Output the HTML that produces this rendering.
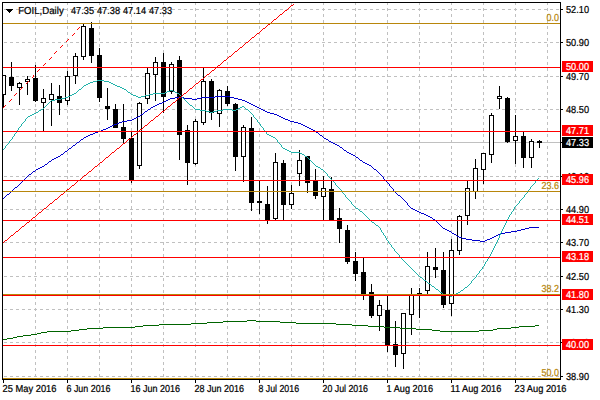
<!DOCTYPE html>
<html><head><meta charset="utf-8"><title>FOIL Daily</title>
<style>html,body{margin:0;padding:0;background:#fff;overflow:hidden}body{width:600px;height:400px;font-family:"Liberation Sans",sans-serif}svg{display:block;position:absolute;left:0;top:0}text{font-family:"Liberation Sans",sans-serif}</style>
</head><body>
<svg width="600" height="400" viewBox="0 0 600 400">
<rect x="0" y="0" width="600" height="400" fill="#fff"/>
<defs><clipPath id="cp"><rect x="3" y="3" width="557" height="376"/></clipPath></defs>
<g shape-rendering="crispEdges" fill="#c0c0c0">
<path d="M4 9h3v1h-3zM10 9h3v1h-3zM16 9h3v1h-3zM22 9h3v1h-3zM28 9h3v1h-3zM34 9h3v1h-3zM40 9h3v1h-3zM46 9h3v1h-3zM52 9h3v1h-3zM58 9h3v1h-3zM64 9h3v1h-3zM70 9h3v1h-3zM76 9h3v1h-3zM82 9h3v1h-3zM88 9h3v1h-3zM94 9h3v1h-3zM100 9h3v1h-3zM106 9h3v1h-3zM112 9h3v1h-3zM118 9h3v1h-3zM124 9h3v1h-3zM130 9h3v1h-3zM136 9h3v1h-3zM142 9h3v1h-3zM148 9h3v1h-3zM154 9h3v1h-3zM160 9h3v1h-3zM166 9h3v1h-3zM172 9h3v1h-3zM178 9h3v1h-3zM184 9h3v1h-3zM190 9h3v1h-3zM196 9h3v1h-3zM202 9h3v1h-3zM208 9h3v1h-3zM214 9h3v1h-3zM220 9h3v1h-3zM226 9h3v1h-3zM232 9h3v1h-3zM238 9h3v1h-3zM244 9h3v1h-3zM250 9h3v1h-3zM256 9h3v1h-3zM262 9h3v1h-3zM268 9h3v1h-3zM274 9h3v1h-3zM280 9h3v1h-3zM286 9h3v1h-3zM292 9h3v1h-3zM298 9h3v1h-3zM304 9h3v1h-3zM310 9h3v1h-3zM316 9h3v1h-3zM322 9h3v1h-3zM328 9h3v1h-3zM334 9h3v1h-3zM340 9h3v1h-3zM346 9h3v1h-3zM352 9h3v1h-3zM358 9h3v1h-3zM364 9h3v1h-3zM370 9h3v1h-3zM376 9h3v1h-3zM382 9h3v1h-3zM388 9h3v1h-3zM394 9h3v1h-3zM400 9h3v1h-3zM406 9h3v1h-3zM412 9h3v1h-3zM418 9h3v1h-3zM424 9h3v1h-3zM430 9h3v1h-3zM436 9h3v1h-3zM442 9h3v1h-3zM448 9h3v1h-3zM454 9h3v1h-3zM460 9h3v1h-3zM466 9h3v1h-3zM472 9h3v1h-3zM478 9h3v1h-3zM484 9h3v1h-3zM490 9h3v1h-3zM496 9h3v1h-3zM502 9h3v1h-3zM508 9h3v1h-3zM514 9h3v1h-3zM520 9h3v1h-3zM526 9h3v1h-3zM532 9h3v1h-3zM538 9h3v1h-3zM544 9h3v1h-3zM550 9h3v1h-3zM556 9h3v1h-3z"/>
<path d="M4 42h3v1h-3zM10 42h3v1h-3zM16 42h3v1h-3zM22 42h3v1h-3zM28 42h3v1h-3zM34 42h3v1h-3zM40 42h3v1h-3zM46 42h3v1h-3zM52 42h3v1h-3zM58 42h3v1h-3zM64 42h3v1h-3zM70 42h3v1h-3zM76 42h3v1h-3zM82 42h3v1h-3zM88 42h3v1h-3zM94 42h3v1h-3zM100 42h3v1h-3zM106 42h3v1h-3zM112 42h3v1h-3zM118 42h3v1h-3zM124 42h3v1h-3zM130 42h3v1h-3zM136 42h3v1h-3zM142 42h3v1h-3zM148 42h3v1h-3zM154 42h3v1h-3zM160 42h3v1h-3zM166 42h3v1h-3zM172 42h3v1h-3zM178 42h3v1h-3zM184 42h3v1h-3zM190 42h3v1h-3zM196 42h3v1h-3zM202 42h3v1h-3zM208 42h3v1h-3zM214 42h3v1h-3zM220 42h3v1h-3zM226 42h3v1h-3zM232 42h3v1h-3zM238 42h3v1h-3zM244 42h3v1h-3zM250 42h3v1h-3zM256 42h3v1h-3zM262 42h3v1h-3zM268 42h3v1h-3zM274 42h3v1h-3zM280 42h3v1h-3zM286 42h3v1h-3zM292 42h3v1h-3zM298 42h3v1h-3zM304 42h3v1h-3zM310 42h3v1h-3zM316 42h3v1h-3zM322 42h3v1h-3zM328 42h3v1h-3zM334 42h3v1h-3zM340 42h3v1h-3zM346 42h3v1h-3zM352 42h3v1h-3zM358 42h3v1h-3zM364 42h3v1h-3zM370 42h3v1h-3zM376 42h3v1h-3zM382 42h3v1h-3zM388 42h3v1h-3zM394 42h3v1h-3zM400 42h3v1h-3zM406 42h3v1h-3zM412 42h3v1h-3zM418 42h3v1h-3zM424 42h3v1h-3zM430 42h3v1h-3zM436 42h3v1h-3zM442 42h3v1h-3zM448 42h3v1h-3zM454 42h3v1h-3zM460 42h3v1h-3zM466 42h3v1h-3zM472 42h3v1h-3zM478 42h3v1h-3zM484 42h3v1h-3zM490 42h3v1h-3zM496 42h3v1h-3zM502 42h3v1h-3zM508 42h3v1h-3zM514 42h3v1h-3zM520 42h3v1h-3zM526 42h3v1h-3zM532 42h3v1h-3zM538 42h3v1h-3zM544 42h3v1h-3zM550 42h3v1h-3zM556 42h3v1h-3z"/>
<path d="M4 76h3v1h-3zM10 76h3v1h-3zM16 76h3v1h-3zM22 76h3v1h-3zM28 76h3v1h-3zM34 76h3v1h-3zM40 76h3v1h-3zM46 76h3v1h-3zM52 76h3v1h-3zM58 76h3v1h-3zM64 76h3v1h-3zM70 76h3v1h-3zM76 76h3v1h-3zM82 76h3v1h-3zM88 76h3v1h-3zM94 76h3v1h-3zM100 76h3v1h-3zM106 76h3v1h-3zM112 76h3v1h-3zM118 76h3v1h-3zM124 76h3v1h-3zM130 76h3v1h-3zM136 76h3v1h-3zM142 76h3v1h-3zM148 76h3v1h-3zM154 76h3v1h-3zM160 76h3v1h-3zM166 76h3v1h-3zM172 76h3v1h-3zM178 76h3v1h-3zM184 76h3v1h-3zM190 76h3v1h-3zM196 76h3v1h-3zM202 76h3v1h-3zM208 76h3v1h-3zM214 76h3v1h-3zM220 76h3v1h-3zM226 76h3v1h-3zM232 76h3v1h-3zM238 76h3v1h-3zM244 76h3v1h-3zM250 76h3v1h-3zM256 76h3v1h-3zM262 76h3v1h-3zM268 76h3v1h-3zM274 76h3v1h-3zM280 76h3v1h-3zM286 76h3v1h-3zM292 76h3v1h-3zM298 76h3v1h-3zM304 76h3v1h-3zM310 76h3v1h-3zM316 76h3v1h-3zM322 76h3v1h-3zM328 76h3v1h-3zM334 76h3v1h-3zM340 76h3v1h-3zM346 76h3v1h-3zM352 76h3v1h-3zM358 76h3v1h-3zM364 76h3v1h-3zM370 76h3v1h-3zM376 76h3v1h-3zM382 76h3v1h-3zM388 76h3v1h-3zM394 76h3v1h-3zM400 76h3v1h-3zM406 76h3v1h-3zM412 76h3v1h-3zM418 76h3v1h-3zM424 76h3v1h-3zM430 76h3v1h-3zM436 76h3v1h-3zM442 76h3v1h-3zM448 76h3v1h-3zM454 76h3v1h-3zM460 76h3v1h-3zM466 76h3v1h-3zM472 76h3v1h-3zM478 76h3v1h-3zM484 76h3v1h-3zM490 76h3v1h-3zM496 76h3v1h-3zM502 76h3v1h-3zM508 76h3v1h-3zM514 76h3v1h-3zM520 76h3v1h-3zM526 76h3v1h-3zM532 76h3v1h-3zM538 76h3v1h-3zM544 76h3v1h-3zM550 76h3v1h-3zM556 76h3v1h-3z"/>
<path d="M4 109h3v1h-3zM10 109h3v1h-3zM16 109h3v1h-3zM22 109h3v1h-3zM28 109h3v1h-3zM34 109h3v1h-3zM40 109h3v1h-3zM46 109h3v1h-3zM52 109h3v1h-3zM58 109h3v1h-3zM64 109h3v1h-3zM70 109h3v1h-3zM76 109h3v1h-3zM82 109h3v1h-3zM88 109h3v1h-3zM94 109h3v1h-3zM100 109h3v1h-3zM106 109h3v1h-3zM112 109h3v1h-3zM118 109h3v1h-3zM124 109h3v1h-3zM130 109h3v1h-3zM136 109h3v1h-3zM142 109h3v1h-3zM148 109h3v1h-3zM154 109h3v1h-3zM160 109h3v1h-3zM166 109h3v1h-3zM172 109h3v1h-3zM178 109h3v1h-3zM184 109h3v1h-3zM190 109h3v1h-3zM196 109h3v1h-3zM202 109h3v1h-3zM208 109h3v1h-3zM214 109h3v1h-3zM220 109h3v1h-3zM226 109h3v1h-3zM232 109h3v1h-3zM238 109h3v1h-3zM244 109h3v1h-3zM250 109h3v1h-3zM256 109h3v1h-3zM262 109h3v1h-3zM268 109h3v1h-3zM274 109h3v1h-3zM280 109h3v1h-3zM286 109h3v1h-3zM292 109h3v1h-3zM298 109h3v1h-3zM304 109h3v1h-3zM310 109h3v1h-3zM316 109h3v1h-3zM322 109h3v1h-3zM328 109h3v1h-3zM334 109h3v1h-3zM340 109h3v1h-3zM346 109h3v1h-3zM352 109h3v1h-3zM358 109h3v1h-3zM364 109h3v1h-3zM370 109h3v1h-3zM376 109h3v1h-3zM382 109h3v1h-3zM388 109h3v1h-3zM394 109h3v1h-3zM400 109h3v1h-3zM406 109h3v1h-3zM412 109h3v1h-3zM418 109h3v1h-3zM424 109h3v1h-3zM430 109h3v1h-3zM436 109h3v1h-3zM442 109h3v1h-3zM448 109h3v1h-3zM454 109h3v1h-3zM460 109h3v1h-3zM466 109h3v1h-3zM472 109h3v1h-3zM478 109h3v1h-3zM484 109h3v1h-3zM490 109h3v1h-3zM496 109h3v1h-3zM502 109h3v1h-3zM508 109h3v1h-3zM514 109h3v1h-3zM520 109h3v1h-3zM526 109h3v1h-3zM532 109h3v1h-3zM538 109h3v1h-3zM544 109h3v1h-3zM550 109h3v1h-3zM556 109h3v1h-3z"/>
<path d="M4 142h3v1h-3zM10 142h3v1h-3zM16 142h3v1h-3zM22 142h3v1h-3zM28 142h3v1h-3zM34 142h3v1h-3zM40 142h3v1h-3zM46 142h3v1h-3zM52 142h3v1h-3zM58 142h3v1h-3zM64 142h3v1h-3zM70 142h3v1h-3zM76 142h3v1h-3zM82 142h3v1h-3zM88 142h3v1h-3zM94 142h3v1h-3zM100 142h3v1h-3zM106 142h3v1h-3zM112 142h3v1h-3zM118 142h3v1h-3zM124 142h3v1h-3zM130 142h3v1h-3zM136 142h3v1h-3zM142 142h3v1h-3zM148 142h3v1h-3zM154 142h3v1h-3zM160 142h3v1h-3zM166 142h3v1h-3zM172 142h3v1h-3zM178 142h3v1h-3zM184 142h3v1h-3zM190 142h3v1h-3zM196 142h3v1h-3zM202 142h3v1h-3zM208 142h3v1h-3zM214 142h3v1h-3zM220 142h3v1h-3zM226 142h3v1h-3zM232 142h3v1h-3zM238 142h3v1h-3zM244 142h3v1h-3zM250 142h3v1h-3zM256 142h3v1h-3zM262 142h3v1h-3zM268 142h3v1h-3zM274 142h3v1h-3zM280 142h3v1h-3zM286 142h3v1h-3zM292 142h3v1h-3zM298 142h3v1h-3zM304 142h3v1h-3zM310 142h3v1h-3zM316 142h3v1h-3zM322 142h3v1h-3zM328 142h3v1h-3zM334 142h3v1h-3zM340 142h3v1h-3zM346 142h3v1h-3zM352 142h3v1h-3zM358 142h3v1h-3zM364 142h3v1h-3zM370 142h3v1h-3zM376 142h3v1h-3zM382 142h3v1h-3zM388 142h3v1h-3zM394 142h3v1h-3zM400 142h3v1h-3zM406 142h3v1h-3zM412 142h3v1h-3zM418 142h3v1h-3zM424 142h3v1h-3zM430 142h3v1h-3zM436 142h3v1h-3zM442 142h3v1h-3zM448 142h3v1h-3zM454 142h3v1h-3zM460 142h3v1h-3zM466 142h3v1h-3zM472 142h3v1h-3zM478 142h3v1h-3zM484 142h3v1h-3zM490 142h3v1h-3zM496 142h3v1h-3zM502 142h3v1h-3zM508 142h3v1h-3zM514 142h3v1h-3zM520 142h3v1h-3zM526 142h3v1h-3zM532 142h3v1h-3zM538 142h3v1h-3zM544 142h3v1h-3zM550 142h3v1h-3zM556 142h3v1h-3z"/>
<path d="M4 176h3v1h-3zM10 176h3v1h-3zM16 176h3v1h-3zM22 176h3v1h-3zM28 176h3v1h-3zM34 176h3v1h-3zM40 176h3v1h-3zM46 176h3v1h-3zM52 176h3v1h-3zM58 176h3v1h-3zM64 176h3v1h-3zM70 176h3v1h-3zM76 176h3v1h-3zM82 176h3v1h-3zM88 176h3v1h-3zM94 176h3v1h-3zM100 176h3v1h-3zM106 176h3v1h-3zM112 176h3v1h-3zM118 176h3v1h-3zM124 176h3v1h-3zM130 176h3v1h-3zM136 176h3v1h-3zM142 176h3v1h-3zM148 176h3v1h-3zM154 176h3v1h-3zM160 176h3v1h-3zM166 176h3v1h-3zM172 176h3v1h-3zM178 176h3v1h-3zM184 176h3v1h-3zM190 176h3v1h-3zM196 176h3v1h-3zM202 176h3v1h-3zM208 176h3v1h-3zM214 176h3v1h-3zM220 176h3v1h-3zM226 176h3v1h-3zM232 176h3v1h-3zM238 176h3v1h-3zM244 176h3v1h-3zM250 176h3v1h-3zM256 176h3v1h-3zM262 176h3v1h-3zM268 176h3v1h-3zM274 176h3v1h-3zM280 176h3v1h-3zM286 176h3v1h-3zM292 176h3v1h-3zM298 176h3v1h-3zM304 176h3v1h-3zM310 176h3v1h-3zM316 176h3v1h-3zM322 176h3v1h-3zM328 176h3v1h-3zM334 176h3v1h-3zM340 176h3v1h-3zM346 176h3v1h-3zM352 176h3v1h-3zM358 176h3v1h-3zM364 176h3v1h-3zM370 176h3v1h-3zM376 176h3v1h-3zM382 176h3v1h-3zM388 176h3v1h-3zM394 176h3v1h-3zM400 176h3v1h-3zM406 176h3v1h-3zM412 176h3v1h-3zM418 176h3v1h-3zM424 176h3v1h-3zM430 176h3v1h-3zM436 176h3v1h-3zM442 176h3v1h-3zM448 176h3v1h-3zM454 176h3v1h-3zM460 176h3v1h-3zM466 176h3v1h-3zM472 176h3v1h-3zM478 176h3v1h-3zM484 176h3v1h-3zM490 176h3v1h-3zM496 176h3v1h-3zM502 176h3v1h-3zM508 176h3v1h-3zM514 176h3v1h-3zM520 176h3v1h-3zM526 176h3v1h-3zM532 176h3v1h-3zM538 176h3v1h-3zM544 176h3v1h-3zM550 176h3v1h-3zM556 176h3v1h-3z"/>
<path d="M4 209h3v1h-3zM10 209h3v1h-3zM16 209h3v1h-3zM22 209h3v1h-3zM28 209h3v1h-3zM34 209h3v1h-3zM40 209h3v1h-3zM46 209h3v1h-3zM52 209h3v1h-3zM58 209h3v1h-3zM64 209h3v1h-3zM70 209h3v1h-3zM76 209h3v1h-3zM82 209h3v1h-3zM88 209h3v1h-3zM94 209h3v1h-3zM100 209h3v1h-3zM106 209h3v1h-3zM112 209h3v1h-3zM118 209h3v1h-3zM124 209h3v1h-3zM130 209h3v1h-3zM136 209h3v1h-3zM142 209h3v1h-3zM148 209h3v1h-3zM154 209h3v1h-3zM160 209h3v1h-3zM166 209h3v1h-3zM172 209h3v1h-3zM178 209h3v1h-3zM184 209h3v1h-3zM190 209h3v1h-3zM196 209h3v1h-3zM202 209h3v1h-3zM208 209h3v1h-3zM214 209h3v1h-3zM220 209h3v1h-3zM226 209h3v1h-3zM232 209h3v1h-3zM238 209h3v1h-3zM244 209h3v1h-3zM250 209h3v1h-3zM256 209h3v1h-3zM262 209h3v1h-3zM268 209h3v1h-3zM274 209h3v1h-3zM280 209h3v1h-3zM286 209h3v1h-3zM292 209h3v1h-3zM298 209h3v1h-3zM304 209h3v1h-3zM310 209h3v1h-3zM316 209h3v1h-3zM322 209h3v1h-3zM328 209h3v1h-3zM334 209h3v1h-3zM340 209h3v1h-3zM346 209h3v1h-3zM352 209h3v1h-3zM358 209h3v1h-3zM364 209h3v1h-3zM370 209h3v1h-3zM376 209h3v1h-3zM382 209h3v1h-3zM388 209h3v1h-3zM394 209h3v1h-3zM400 209h3v1h-3zM406 209h3v1h-3zM412 209h3v1h-3zM418 209h3v1h-3zM424 209h3v1h-3zM430 209h3v1h-3zM436 209h3v1h-3zM442 209h3v1h-3zM448 209h3v1h-3zM454 209h3v1h-3zM460 209h3v1h-3zM466 209h3v1h-3zM472 209h3v1h-3zM478 209h3v1h-3zM484 209h3v1h-3zM490 209h3v1h-3zM496 209h3v1h-3zM502 209h3v1h-3zM508 209h3v1h-3zM514 209h3v1h-3zM520 209h3v1h-3zM526 209h3v1h-3zM532 209h3v1h-3zM538 209h3v1h-3zM544 209h3v1h-3zM550 209h3v1h-3zM556 209h3v1h-3z"/>
<path d="M4 242h3v1h-3zM10 242h3v1h-3zM16 242h3v1h-3zM22 242h3v1h-3zM28 242h3v1h-3zM34 242h3v1h-3zM40 242h3v1h-3zM46 242h3v1h-3zM52 242h3v1h-3zM58 242h3v1h-3zM64 242h3v1h-3zM70 242h3v1h-3zM76 242h3v1h-3zM82 242h3v1h-3zM88 242h3v1h-3zM94 242h3v1h-3zM100 242h3v1h-3zM106 242h3v1h-3zM112 242h3v1h-3zM118 242h3v1h-3zM124 242h3v1h-3zM130 242h3v1h-3zM136 242h3v1h-3zM142 242h3v1h-3zM148 242h3v1h-3zM154 242h3v1h-3zM160 242h3v1h-3zM166 242h3v1h-3zM172 242h3v1h-3zM178 242h3v1h-3zM184 242h3v1h-3zM190 242h3v1h-3zM196 242h3v1h-3zM202 242h3v1h-3zM208 242h3v1h-3zM214 242h3v1h-3zM220 242h3v1h-3zM226 242h3v1h-3zM232 242h3v1h-3zM238 242h3v1h-3zM244 242h3v1h-3zM250 242h3v1h-3zM256 242h3v1h-3zM262 242h3v1h-3zM268 242h3v1h-3zM274 242h3v1h-3zM280 242h3v1h-3zM286 242h3v1h-3zM292 242h3v1h-3zM298 242h3v1h-3zM304 242h3v1h-3zM310 242h3v1h-3zM316 242h3v1h-3zM322 242h3v1h-3zM328 242h3v1h-3zM334 242h3v1h-3zM340 242h3v1h-3zM346 242h3v1h-3zM352 242h3v1h-3zM358 242h3v1h-3zM364 242h3v1h-3zM370 242h3v1h-3zM376 242h3v1h-3zM382 242h3v1h-3zM388 242h3v1h-3zM394 242h3v1h-3zM400 242h3v1h-3zM406 242h3v1h-3zM412 242h3v1h-3zM418 242h3v1h-3zM424 242h3v1h-3zM430 242h3v1h-3zM436 242h3v1h-3zM442 242h3v1h-3zM448 242h3v1h-3zM454 242h3v1h-3zM460 242h3v1h-3zM466 242h3v1h-3zM472 242h3v1h-3zM478 242h3v1h-3zM484 242h3v1h-3zM490 242h3v1h-3zM496 242h3v1h-3zM502 242h3v1h-3zM508 242h3v1h-3zM514 242h3v1h-3zM520 242h3v1h-3zM526 242h3v1h-3zM532 242h3v1h-3zM538 242h3v1h-3zM544 242h3v1h-3zM550 242h3v1h-3zM556 242h3v1h-3z"/>
<path d="M4 276h3v1h-3zM10 276h3v1h-3zM16 276h3v1h-3zM22 276h3v1h-3zM28 276h3v1h-3zM34 276h3v1h-3zM40 276h3v1h-3zM46 276h3v1h-3zM52 276h3v1h-3zM58 276h3v1h-3zM64 276h3v1h-3zM70 276h3v1h-3zM76 276h3v1h-3zM82 276h3v1h-3zM88 276h3v1h-3zM94 276h3v1h-3zM100 276h3v1h-3zM106 276h3v1h-3zM112 276h3v1h-3zM118 276h3v1h-3zM124 276h3v1h-3zM130 276h3v1h-3zM136 276h3v1h-3zM142 276h3v1h-3zM148 276h3v1h-3zM154 276h3v1h-3zM160 276h3v1h-3zM166 276h3v1h-3zM172 276h3v1h-3zM178 276h3v1h-3zM184 276h3v1h-3zM190 276h3v1h-3zM196 276h3v1h-3zM202 276h3v1h-3zM208 276h3v1h-3zM214 276h3v1h-3zM220 276h3v1h-3zM226 276h3v1h-3zM232 276h3v1h-3zM238 276h3v1h-3zM244 276h3v1h-3zM250 276h3v1h-3zM256 276h3v1h-3zM262 276h3v1h-3zM268 276h3v1h-3zM274 276h3v1h-3zM280 276h3v1h-3zM286 276h3v1h-3zM292 276h3v1h-3zM298 276h3v1h-3zM304 276h3v1h-3zM310 276h3v1h-3zM316 276h3v1h-3zM322 276h3v1h-3zM328 276h3v1h-3zM334 276h3v1h-3zM340 276h3v1h-3zM346 276h3v1h-3zM352 276h3v1h-3zM358 276h3v1h-3zM364 276h3v1h-3zM370 276h3v1h-3zM376 276h3v1h-3zM382 276h3v1h-3zM388 276h3v1h-3zM394 276h3v1h-3zM400 276h3v1h-3zM406 276h3v1h-3zM412 276h3v1h-3zM418 276h3v1h-3zM424 276h3v1h-3zM430 276h3v1h-3zM436 276h3v1h-3zM442 276h3v1h-3zM448 276h3v1h-3zM454 276h3v1h-3zM460 276h3v1h-3zM466 276h3v1h-3zM472 276h3v1h-3zM478 276h3v1h-3zM484 276h3v1h-3zM490 276h3v1h-3zM496 276h3v1h-3zM502 276h3v1h-3zM508 276h3v1h-3zM514 276h3v1h-3zM520 276h3v1h-3zM526 276h3v1h-3zM532 276h3v1h-3zM538 276h3v1h-3zM544 276h3v1h-3zM550 276h3v1h-3zM556 276h3v1h-3z"/>
<path d="M4 309h3v1h-3zM10 309h3v1h-3zM16 309h3v1h-3zM22 309h3v1h-3zM28 309h3v1h-3zM34 309h3v1h-3zM40 309h3v1h-3zM46 309h3v1h-3zM52 309h3v1h-3zM58 309h3v1h-3zM64 309h3v1h-3zM70 309h3v1h-3zM76 309h3v1h-3zM82 309h3v1h-3zM88 309h3v1h-3zM94 309h3v1h-3zM100 309h3v1h-3zM106 309h3v1h-3zM112 309h3v1h-3zM118 309h3v1h-3zM124 309h3v1h-3zM130 309h3v1h-3zM136 309h3v1h-3zM142 309h3v1h-3zM148 309h3v1h-3zM154 309h3v1h-3zM160 309h3v1h-3zM166 309h3v1h-3zM172 309h3v1h-3zM178 309h3v1h-3zM184 309h3v1h-3zM190 309h3v1h-3zM196 309h3v1h-3zM202 309h3v1h-3zM208 309h3v1h-3zM214 309h3v1h-3zM220 309h3v1h-3zM226 309h3v1h-3zM232 309h3v1h-3zM238 309h3v1h-3zM244 309h3v1h-3zM250 309h3v1h-3zM256 309h3v1h-3zM262 309h3v1h-3zM268 309h3v1h-3zM274 309h3v1h-3zM280 309h3v1h-3zM286 309h3v1h-3zM292 309h3v1h-3zM298 309h3v1h-3zM304 309h3v1h-3zM310 309h3v1h-3zM316 309h3v1h-3zM322 309h3v1h-3zM328 309h3v1h-3zM334 309h3v1h-3zM340 309h3v1h-3zM346 309h3v1h-3zM352 309h3v1h-3zM358 309h3v1h-3zM364 309h3v1h-3zM370 309h3v1h-3zM376 309h3v1h-3zM382 309h3v1h-3zM388 309h3v1h-3zM394 309h3v1h-3zM400 309h3v1h-3zM406 309h3v1h-3zM412 309h3v1h-3zM418 309h3v1h-3zM424 309h3v1h-3zM430 309h3v1h-3zM436 309h3v1h-3zM442 309h3v1h-3zM448 309h3v1h-3zM454 309h3v1h-3zM460 309h3v1h-3zM466 309h3v1h-3zM472 309h3v1h-3zM478 309h3v1h-3zM484 309h3v1h-3zM490 309h3v1h-3zM496 309h3v1h-3zM502 309h3v1h-3zM508 309h3v1h-3zM514 309h3v1h-3zM520 309h3v1h-3zM526 309h3v1h-3zM532 309h3v1h-3zM538 309h3v1h-3zM544 309h3v1h-3zM550 309h3v1h-3zM556 309h3v1h-3z"/>
<path d="M4 342h3v1h-3zM10 342h3v1h-3zM16 342h3v1h-3zM22 342h3v1h-3zM28 342h3v1h-3zM34 342h3v1h-3zM40 342h3v1h-3zM46 342h3v1h-3zM52 342h3v1h-3zM58 342h3v1h-3zM64 342h3v1h-3zM70 342h3v1h-3zM76 342h3v1h-3zM82 342h3v1h-3zM88 342h3v1h-3zM94 342h3v1h-3zM100 342h3v1h-3zM106 342h3v1h-3zM112 342h3v1h-3zM118 342h3v1h-3zM124 342h3v1h-3zM130 342h3v1h-3zM136 342h3v1h-3zM142 342h3v1h-3zM148 342h3v1h-3zM154 342h3v1h-3zM160 342h3v1h-3zM166 342h3v1h-3zM172 342h3v1h-3zM178 342h3v1h-3zM184 342h3v1h-3zM190 342h3v1h-3zM196 342h3v1h-3zM202 342h3v1h-3zM208 342h3v1h-3zM214 342h3v1h-3zM220 342h3v1h-3zM226 342h3v1h-3zM232 342h3v1h-3zM238 342h3v1h-3zM244 342h3v1h-3zM250 342h3v1h-3zM256 342h3v1h-3zM262 342h3v1h-3zM268 342h3v1h-3zM274 342h3v1h-3zM280 342h3v1h-3zM286 342h3v1h-3zM292 342h3v1h-3zM298 342h3v1h-3zM304 342h3v1h-3zM310 342h3v1h-3zM316 342h3v1h-3zM322 342h3v1h-3zM328 342h3v1h-3zM334 342h3v1h-3zM340 342h3v1h-3zM346 342h3v1h-3zM352 342h3v1h-3zM358 342h3v1h-3zM364 342h3v1h-3zM370 342h3v1h-3zM376 342h3v1h-3zM382 342h3v1h-3zM388 342h3v1h-3zM394 342h3v1h-3zM400 342h3v1h-3zM406 342h3v1h-3zM412 342h3v1h-3zM418 342h3v1h-3zM424 342h3v1h-3zM430 342h3v1h-3zM436 342h3v1h-3zM442 342h3v1h-3zM448 342h3v1h-3zM454 342h3v1h-3zM460 342h3v1h-3zM466 342h3v1h-3zM472 342h3v1h-3zM478 342h3v1h-3zM484 342h3v1h-3zM490 342h3v1h-3zM496 342h3v1h-3zM502 342h3v1h-3zM508 342h3v1h-3zM514 342h3v1h-3zM520 342h3v1h-3zM526 342h3v1h-3zM532 342h3v1h-3zM538 342h3v1h-3zM544 342h3v1h-3zM550 342h3v1h-3zM556 342h3v1h-3z"/>
<path d="M4 376h3v1h-3zM10 376h3v1h-3zM16 376h3v1h-3zM22 376h3v1h-3zM28 376h3v1h-3zM34 376h3v1h-3zM40 376h3v1h-3zM46 376h3v1h-3zM52 376h3v1h-3zM58 376h3v1h-3zM64 376h3v1h-3zM70 376h3v1h-3zM76 376h3v1h-3zM82 376h3v1h-3zM88 376h3v1h-3zM94 376h3v1h-3zM100 376h3v1h-3zM106 376h3v1h-3zM112 376h3v1h-3zM118 376h3v1h-3zM124 376h3v1h-3zM130 376h3v1h-3zM136 376h3v1h-3zM142 376h3v1h-3zM148 376h3v1h-3zM154 376h3v1h-3zM160 376h3v1h-3zM166 376h3v1h-3zM172 376h3v1h-3zM178 376h3v1h-3zM184 376h3v1h-3zM190 376h3v1h-3zM196 376h3v1h-3zM202 376h3v1h-3zM208 376h3v1h-3zM214 376h3v1h-3zM220 376h3v1h-3zM226 376h3v1h-3zM232 376h3v1h-3zM238 376h3v1h-3zM244 376h3v1h-3zM250 376h3v1h-3zM256 376h3v1h-3zM262 376h3v1h-3zM268 376h3v1h-3zM274 376h3v1h-3zM280 376h3v1h-3zM286 376h3v1h-3zM292 376h3v1h-3zM298 376h3v1h-3zM304 376h3v1h-3zM310 376h3v1h-3zM316 376h3v1h-3zM322 376h3v1h-3zM328 376h3v1h-3zM334 376h3v1h-3zM340 376h3v1h-3zM346 376h3v1h-3zM352 376h3v1h-3zM358 376h3v1h-3zM364 376h3v1h-3zM370 376h3v1h-3zM376 376h3v1h-3zM382 376h3v1h-3zM388 376h3v1h-3zM394 376h3v1h-3zM400 376h3v1h-3zM406 376h3v1h-3zM412 376h3v1h-3zM418 376h3v1h-3zM424 376h3v1h-3zM430 376h3v1h-3zM436 376h3v1h-3zM442 376h3v1h-3zM448 376h3v1h-3zM454 376h3v1h-3zM460 376h3v1h-3zM466 376h3v1h-3zM472 376h3v1h-3zM478 376h3v1h-3zM484 376h3v1h-3zM490 376h3v1h-3zM496 376h3v1h-3zM502 376h3v1h-3zM508 376h3v1h-3zM514 376h3v1h-3zM520 376h3v1h-3zM526 376h3v1h-3zM532 376h3v1h-3zM538 376h3v1h-3zM544 376h3v1h-3zM550 376h3v1h-3zM556 376h3v1h-3z"/>
<path d="M35 3v2h1v-2zM35 8v3h1v-3zM35 14v3h1v-3zM35 20v3h1v-3zM35 26v3h1v-3zM35 32v3h1v-3zM35 38v3h1v-3zM35 44v3h1v-3zM35 50v3h1v-3zM35 56v3h1v-3zM35 62v3h1v-3zM35 68v3h1v-3zM35 74v3h1v-3zM35 80v3h1v-3zM35 86v3h1v-3zM35 92v3h1v-3zM35 98v3h1v-3zM35 104v3h1v-3zM35 110v3h1v-3zM35 116v3h1v-3zM35 122v3h1v-3zM35 128v3h1v-3zM35 134v3h1v-3zM35 140v3h1v-3zM35 146v3h1v-3zM35 152v3h1v-3zM35 158v3h1v-3zM35 164v3h1v-3zM35 170v3h1v-3zM35 176v3h1v-3zM35 182v3h1v-3zM35 188v3h1v-3zM35 194v3h1v-3zM35 200v3h1v-3zM35 206v3h1v-3zM35 212v3h1v-3zM35 218v3h1v-3zM35 224v3h1v-3zM35 230v3h1v-3zM35 236v3h1v-3zM35 242v3h1v-3zM35 248v3h1v-3zM35 254v3h1v-3zM35 260v3h1v-3zM35 266v3h1v-3zM35 272v3h1v-3zM35 278v3h1v-3zM35 284v3h1v-3zM35 290v3h1v-3zM35 296v3h1v-3zM35 302v3h1v-3zM35 308v3h1v-3zM35 314v3h1v-3zM35 320v3h1v-3zM35 326v3h1v-3zM35 332v3h1v-3zM35 338v3h1v-3zM35 344v3h1v-3zM35 350v3h1v-3zM35 356v3h1v-3zM35 362v3h1v-3zM35 368v3h1v-3zM35 374v3h1v-3z"/>
<path d="M67 3v2h1v-2zM67 8v3h1v-3zM67 14v3h1v-3zM67 20v3h1v-3zM67 26v3h1v-3zM67 32v3h1v-3zM67 38v3h1v-3zM67 44v3h1v-3zM67 50v3h1v-3zM67 56v3h1v-3zM67 62v3h1v-3zM67 68v3h1v-3zM67 74v3h1v-3zM67 80v3h1v-3zM67 86v3h1v-3zM67 92v3h1v-3zM67 98v3h1v-3zM67 104v3h1v-3zM67 110v3h1v-3zM67 116v3h1v-3zM67 122v3h1v-3zM67 128v3h1v-3zM67 134v3h1v-3zM67 140v3h1v-3zM67 146v3h1v-3zM67 152v3h1v-3zM67 158v3h1v-3zM67 164v3h1v-3zM67 170v3h1v-3zM67 176v3h1v-3zM67 182v3h1v-3zM67 188v3h1v-3zM67 194v3h1v-3zM67 200v3h1v-3zM67 206v3h1v-3zM67 212v3h1v-3zM67 218v3h1v-3zM67 224v3h1v-3zM67 230v3h1v-3zM67 236v3h1v-3zM67 242v3h1v-3zM67 248v3h1v-3zM67 254v3h1v-3zM67 260v3h1v-3zM67 266v3h1v-3zM67 272v3h1v-3zM67 278v3h1v-3zM67 284v3h1v-3zM67 290v3h1v-3zM67 296v3h1v-3zM67 302v3h1v-3zM67 308v3h1v-3zM67 314v3h1v-3zM67 320v3h1v-3zM67 326v3h1v-3zM67 332v3h1v-3zM67 338v3h1v-3zM67 344v3h1v-3zM67 350v3h1v-3zM67 356v3h1v-3zM67 362v3h1v-3zM67 368v3h1v-3zM67 374v3h1v-3z"/>
<path d="M99 3v2h1v-2zM99 8v3h1v-3zM99 14v3h1v-3zM99 20v3h1v-3zM99 26v3h1v-3zM99 32v3h1v-3zM99 38v3h1v-3zM99 44v3h1v-3zM99 50v3h1v-3zM99 56v3h1v-3zM99 62v3h1v-3zM99 68v3h1v-3zM99 74v3h1v-3zM99 80v3h1v-3zM99 86v3h1v-3zM99 92v3h1v-3zM99 98v3h1v-3zM99 104v3h1v-3zM99 110v3h1v-3zM99 116v3h1v-3zM99 122v3h1v-3zM99 128v3h1v-3zM99 134v3h1v-3zM99 140v3h1v-3zM99 146v3h1v-3zM99 152v3h1v-3zM99 158v3h1v-3zM99 164v3h1v-3zM99 170v3h1v-3zM99 176v3h1v-3zM99 182v3h1v-3zM99 188v3h1v-3zM99 194v3h1v-3zM99 200v3h1v-3zM99 206v3h1v-3zM99 212v3h1v-3zM99 218v3h1v-3zM99 224v3h1v-3zM99 230v3h1v-3zM99 236v3h1v-3zM99 242v3h1v-3zM99 248v3h1v-3zM99 254v3h1v-3zM99 260v3h1v-3zM99 266v3h1v-3zM99 272v3h1v-3zM99 278v3h1v-3zM99 284v3h1v-3zM99 290v3h1v-3zM99 296v3h1v-3zM99 302v3h1v-3zM99 308v3h1v-3zM99 314v3h1v-3zM99 320v3h1v-3zM99 326v3h1v-3zM99 332v3h1v-3zM99 338v3h1v-3zM99 344v3h1v-3zM99 350v3h1v-3zM99 356v3h1v-3zM99 362v3h1v-3zM99 368v3h1v-3zM99 374v3h1v-3z"/>
<path d="M131 3v2h1v-2zM131 8v3h1v-3zM131 14v3h1v-3zM131 20v3h1v-3zM131 26v3h1v-3zM131 32v3h1v-3zM131 38v3h1v-3zM131 44v3h1v-3zM131 50v3h1v-3zM131 56v3h1v-3zM131 62v3h1v-3zM131 68v3h1v-3zM131 74v3h1v-3zM131 80v3h1v-3zM131 86v3h1v-3zM131 92v3h1v-3zM131 98v3h1v-3zM131 104v3h1v-3zM131 110v3h1v-3zM131 116v3h1v-3zM131 122v3h1v-3zM131 128v3h1v-3zM131 134v3h1v-3zM131 140v3h1v-3zM131 146v3h1v-3zM131 152v3h1v-3zM131 158v3h1v-3zM131 164v3h1v-3zM131 170v3h1v-3zM131 176v3h1v-3zM131 182v3h1v-3zM131 188v3h1v-3zM131 194v3h1v-3zM131 200v3h1v-3zM131 206v3h1v-3zM131 212v3h1v-3zM131 218v3h1v-3zM131 224v3h1v-3zM131 230v3h1v-3zM131 236v3h1v-3zM131 242v3h1v-3zM131 248v3h1v-3zM131 254v3h1v-3zM131 260v3h1v-3zM131 266v3h1v-3zM131 272v3h1v-3zM131 278v3h1v-3zM131 284v3h1v-3zM131 290v3h1v-3zM131 296v3h1v-3zM131 302v3h1v-3zM131 308v3h1v-3zM131 314v3h1v-3zM131 320v3h1v-3zM131 326v3h1v-3zM131 332v3h1v-3zM131 338v3h1v-3zM131 344v3h1v-3zM131 350v3h1v-3zM131 356v3h1v-3zM131 362v3h1v-3zM131 368v3h1v-3zM131 374v3h1v-3z"/>
<path d="M163 3v2h1v-2zM163 8v3h1v-3zM163 14v3h1v-3zM163 20v3h1v-3zM163 26v3h1v-3zM163 32v3h1v-3zM163 38v3h1v-3zM163 44v3h1v-3zM163 50v3h1v-3zM163 56v3h1v-3zM163 62v3h1v-3zM163 68v3h1v-3zM163 74v3h1v-3zM163 80v3h1v-3zM163 86v3h1v-3zM163 92v3h1v-3zM163 98v3h1v-3zM163 104v3h1v-3zM163 110v3h1v-3zM163 116v3h1v-3zM163 122v3h1v-3zM163 128v3h1v-3zM163 134v3h1v-3zM163 140v3h1v-3zM163 146v3h1v-3zM163 152v3h1v-3zM163 158v3h1v-3zM163 164v3h1v-3zM163 170v3h1v-3zM163 176v3h1v-3zM163 182v3h1v-3zM163 188v3h1v-3zM163 194v3h1v-3zM163 200v3h1v-3zM163 206v3h1v-3zM163 212v3h1v-3zM163 218v3h1v-3zM163 224v3h1v-3zM163 230v3h1v-3zM163 236v3h1v-3zM163 242v3h1v-3zM163 248v3h1v-3zM163 254v3h1v-3zM163 260v3h1v-3zM163 266v3h1v-3zM163 272v3h1v-3zM163 278v3h1v-3zM163 284v3h1v-3zM163 290v3h1v-3zM163 296v3h1v-3zM163 302v3h1v-3zM163 308v3h1v-3zM163 314v3h1v-3zM163 320v3h1v-3zM163 326v3h1v-3zM163 332v3h1v-3zM163 338v3h1v-3zM163 344v3h1v-3zM163 350v3h1v-3zM163 356v3h1v-3zM163 362v3h1v-3zM163 368v3h1v-3zM163 374v3h1v-3z"/>
<path d="M195 3v2h1v-2zM195 8v3h1v-3zM195 14v3h1v-3zM195 20v3h1v-3zM195 26v3h1v-3zM195 32v3h1v-3zM195 38v3h1v-3zM195 44v3h1v-3zM195 50v3h1v-3zM195 56v3h1v-3zM195 62v3h1v-3zM195 68v3h1v-3zM195 74v3h1v-3zM195 80v3h1v-3zM195 86v3h1v-3zM195 92v3h1v-3zM195 98v3h1v-3zM195 104v3h1v-3zM195 110v3h1v-3zM195 116v3h1v-3zM195 122v3h1v-3zM195 128v3h1v-3zM195 134v3h1v-3zM195 140v3h1v-3zM195 146v3h1v-3zM195 152v3h1v-3zM195 158v3h1v-3zM195 164v3h1v-3zM195 170v3h1v-3zM195 176v3h1v-3zM195 182v3h1v-3zM195 188v3h1v-3zM195 194v3h1v-3zM195 200v3h1v-3zM195 206v3h1v-3zM195 212v3h1v-3zM195 218v3h1v-3zM195 224v3h1v-3zM195 230v3h1v-3zM195 236v3h1v-3zM195 242v3h1v-3zM195 248v3h1v-3zM195 254v3h1v-3zM195 260v3h1v-3zM195 266v3h1v-3zM195 272v3h1v-3zM195 278v3h1v-3zM195 284v3h1v-3zM195 290v3h1v-3zM195 296v3h1v-3zM195 302v3h1v-3zM195 308v3h1v-3zM195 314v3h1v-3zM195 320v3h1v-3zM195 326v3h1v-3zM195 332v3h1v-3zM195 338v3h1v-3zM195 344v3h1v-3zM195 350v3h1v-3zM195 356v3h1v-3zM195 362v3h1v-3zM195 368v3h1v-3zM195 374v3h1v-3z"/>
<path d="M227 3v2h1v-2zM227 8v3h1v-3zM227 14v3h1v-3zM227 20v3h1v-3zM227 26v3h1v-3zM227 32v3h1v-3zM227 38v3h1v-3zM227 44v3h1v-3zM227 50v3h1v-3zM227 56v3h1v-3zM227 62v3h1v-3zM227 68v3h1v-3zM227 74v3h1v-3zM227 80v3h1v-3zM227 86v3h1v-3zM227 92v3h1v-3zM227 98v3h1v-3zM227 104v3h1v-3zM227 110v3h1v-3zM227 116v3h1v-3zM227 122v3h1v-3zM227 128v3h1v-3zM227 134v3h1v-3zM227 140v3h1v-3zM227 146v3h1v-3zM227 152v3h1v-3zM227 158v3h1v-3zM227 164v3h1v-3zM227 170v3h1v-3zM227 176v3h1v-3zM227 182v3h1v-3zM227 188v3h1v-3zM227 194v3h1v-3zM227 200v3h1v-3zM227 206v3h1v-3zM227 212v3h1v-3zM227 218v3h1v-3zM227 224v3h1v-3zM227 230v3h1v-3zM227 236v3h1v-3zM227 242v3h1v-3zM227 248v3h1v-3zM227 254v3h1v-3zM227 260v3h1v-3zM227 266v3h1v-3zM227 272v3h1v-3zM227 278v3h1v-3zM227 284v3h1v-3zM227 290v3h1v-3zM227 296v3h1v-3zM227 302v3h1v-3zM227 308v3h1v-3zM227 314v3h1v-3zM227 320v3h1v-3zM227 326v3h1v-3zM227 332v3h1v-3zM227 338v3h1v-3zM227 344v3h1v-3zM227 350v3h1v-3zM227 356v3h1v-3zM227 362v3h1v-3zM227 368v3h1v-3zM227 374v3h1v-3z"/>
<path d="M259 3v2h1v-2zM259 8v3h1v-3zM259 14v3h1v-3zM259 20v3h1v-3zM259 26v3h1v-3zM259 32v3h1v-3zM259 38v3h1v-3zM259 44v3h1v-3zM259 50v3h1v-3zM259 56v3h1v-3zM259 62v3h1v-3zM259 68v3h1v-3zM259 74v3h1v-3zM259 80v3h1v-3zM259 86v3h1v-3zM259 92v3h1v-3zM259 98v3h1v-3zM259 104v3h1v-3zM259 110v3h1v-3zM259 116v3h1v-3zM259 122v3h1v-3zM259 128v3h1v-3zM259 134v3h1v-3zM259 140v3h1v-3zM259 146v3h1v-3zM259 152v3h1v-3zM259 158v3h1v-3zM259 164v3h1v-3zM259 170v3h1v-3zM259 176v3h1v-3zM259 182v3h1v-3zM259 188v3h1v-3zM259 194v3h1v-3zM259 200v3h1v-3zM259 206v3h1v-3zM259 212v3h1v-3zM259 218v3h1v-3zM259 224v3h1v-3zM259 230v3h1v-3zM259 236v3h1v-3zM259 242v3h1v-3zM259 248v3h1v-3zM259 254v3h1v-3zM259 260v3h1v-3zM259 266v3h1v-3zM259 272v3h1v-3zM259 278v3h1v-3zM259 284v3h1v-3zM259 290v3h1v-3zM259 296v3h1v-3zM259 302v3h1v-3zM259 308v3h1v-3zM259 314v3h1v-3zM259 320v3h1v-3zM259 326v3h1v-3zM259 332v3h1v-3zM259 338v3h1v-3zM259 344v3h1v-3zM259 350v3h1v-3zM259 356v3h1v-3zM259 362v3h1v-3zM259 368v3h1v-3zM259 374v3h1v-3z"/>
<path d="M291 3v2h1v-2zM291 8v3h1v-3zM291 14v3h1v-3zM291 20v3h1v-3zM291 26v3h1v-3zM291 32v3h1v-3zM291 38v3h1v-3zM291 44v3h1v-3zM291 50v3h1v-3zM291 56v3h1v-3zM291 62v3h1v-3zM291 68v3h1v-3zM291 74v3h1v-3zM291 80v3h1v-3zM291 86v3h1v-3zM291 92v3h1v-3zM291 98v3h1v-3zM291 104v3h1v-3zM291 110v3h1v-3zM291 116v3h1v-3zM291 122v3h1v-3zM291 128v3h1v-3zM291 134v3h1v-3zM291 140v3h1v-3zM291 146v3h1v-3zM291 152v3h1v-3zM291 158v3h1v-3zM291 164v3h1v-3zM291 170v3h1v-3zM291 176v3h1v-3zM291 182v3h1v-3zM291 188v3h1v-3zM291 194v3h1v-3zM291 200v3h1v-3zM291 206v3h1v-3zM291 212v3h1v-3zM291 218v3h1v-3zM291 224v3h1v-3zM291 230v3h1v-3zM291 236v3h1v-3zM291 242v3h1v-3zM291 248v3h1v-3zM291 254v3h1v-3zM291 260v3h1v-3zM291 266v3h1v-3zM291 272v3h1v-3zM291 278v3h1v-3zM291 284v3h1v-3zM291 290v3h1v-3zM291 296v3h1v-3zM291 302v3h1v-3zM291 308v3h1v-3zM291 314v3h1v-3zM291 320v3h1v-3zM291 326v3h1v-3zM291 332v3h1v-3zM291 338v3h1v-3zM291 344v3h1v-3zM291 350v3h1v-3zM291 356v3h1v-3zM291 362v3h1v-3zM291 368v3h1v-3zM291 374v3h1v-3z"/>
<path d="M323 3v2h1v-2zM323 8v3h1v-3zM323 14v3h1v-3zM323 20v3h1v-3zM323 26v3h1v-3zM323 32v3h1v-3zM323 38v3h1v-3zM323 44v3h1v-3zM323 50v3h1v-3zM323 56v3h1v-3zM323 62v3h1v-3zM323 68v3h1v-3zM323 74v3h1v-3zM323 80v3h1v-3zM323 86v3h1v-3zM323 92v3h1v-3zM323 98v3h1v-3zM323 104v3h1v-3zM323 110v3h1v-3zM323 116v3h1v-3zM323 122v3h1v-3zM323 128v3h1v-3zM323 134v3h1v-3zM323 140v3h1v-3zM323 146v3h1v-3zM323 152v3h1v-3zM323 158v3h1v-3zM323 164v3h1v-3zM323 170v3h1v-3zM323 176v3h1v-3zM323 182v3h1v-3zM323 188v3h1v-3zM323 194v3h1v-3zM323 200v3h1v-3zM323 206v3h1v-3zM323 212v3h1v-3zM323 218v3h1v-3zM323 224v3h1v-3zM323 230v3h1v-3zM323 236v3h1v-3zM323 242v3h1v-3zM323 248v3h1v-3zM323 254v3h1v-3zM323 260v3h1v-3zM323 266v3h1v-3zM323 272v3h1v-3zM323 278v3h1v-3zM323 284v3h1v-3zM323 290v3h1v-3zM323 296v3h1v-3zM323 302v3h1v-3zM323 308v3h1v-3zM323 314v3h1v-3zM323 320v3h1v-3zM323 326v3h1v-3zM323 332v3h1v-3zM323 338v3h1v-3zM323 344v3h1v-3zM323 350v3h1v-3zM323 356v3h1v-3zM323 362v3h1v-3zM323 368v3h1v-3zM323 374v3h1v-3z"/>
<path d="M355 3v2h1v-2zM355 8v3h1v-3zM355 14v3h1v-3zM355 20v3h1v-3zM355 26v3h1v-3zM355 32v3h1v-3zM355 38v3h1v-3zM355 44v3h1v-3zM355 50v3h1v-3zM355 56v3h1v-3zM355 62v3h1v-3zM355 68v3h1v-3zM355 74v3h1v-3zM355 80v3h1v-3zM355 86v3h1v-3zM355 92v3h1v-3zM355 98v3h1v-3zM355 104v3h1v-3zM355 110v3h1v-3zM355 116v3h1v-3zM355 122v3h1v-3zM355 128v3h1v-3zM355 134v3h1v-3zM355 140v3h1v-3zM355 146v3h1v-3zM355 152v3h1v-3zM355 158v3h1v-3zM355 164v3h1v-3zM355 170v3h1v-3zM355 176v3h1v-3zM355 182v3h1v-3zM355 188v3h1v-3zM355 194v3h1v-3zM355 200v3h1v-3zM355 206v3h1v-3zM355 212v3h1v-3zM355 218v3h1v-3zM355 224v3h1v-3zM355 230v3h1v-3zM355 236v3h1v-3zM355 242v3h1v-3zM355 248v3h1v-3zM355 254v3h1v-3zM355 260v3h1v-3zM355 266v3h1v-3zM355 272v3h1v-3zM355 278v3h1v-3zM355 284v3h1v-3zM355 290v3h1v-3zM355 296v3h1v-3zM355 302v3h1v-3zM355 308v3h1v-3zM355 314v3h1v-3zM355 320v3h1v-3zM355 326v3h1v-3zM355 332v3h1v-3zM355 338v3h1v-3zM355 344v3h1v-3zM355 350v3h1v-3zM355 356v3h1v-3zM355 362v3h1v-3zM355 368v3h1v-3zM355 374v3h1v-3z"/>
<path d="M387 3v2h1v-2zM387 8v3h1v-3zM387 14v3h1v-3zM387 20v3h1v-3zM387 26v3h1v-3zM387 32v3h1v-3zM387 38v3h1v-3zM387 44v3h1v-3zM387 50v3h1v-3zM387 56v3h1v-3zM387 62v3h1v-3zM387 68v3h1v-3zM387 74v3h1v-3zM387 80v3h1v-3zM387 86v3h1v-3zM387 92v3h1v-3zM387 98v3h1v-3zM387 104v3h1v-3zM387 110v3h1v-3zM387 116v3h1v-3zM387 122v3h1v-3zM387 128v3h1v-3zM387 134v3h1v-3zM387 140v3h1v-3zM387 146v3h1v-3zM387 152v3h1v-3zM387 158v3h1v-3zM387 164v3h1v-3zM387 170v3h1v-3zM387 176v3h1v-3zM387 182v3h1v-3zM387 188v3h1v-3zM387 194v3h1v-3zM387 200v3h1v-3zM387 206v3h1v-3zM387 212v3h1v-3zM387 218v3h1v-3zM387 224v3h1v-3zM387 230v3h1v-3zM387 236v3h1v-3zM387 242v3h1v-3zM387 248v3h1v-3zM387 254v3h1v-3zM387 260v3h1v-3zM387 266v3h1v-3zM387 272v3h1v-3zM387 278v3h1v-3zM387 284v3h1v-3zM387 290v3h1v-3zM387 296v3h1v-3zM387 302v3h1v-3zM387 308v3h1v-3zM387 314v3h1v-3zM387 320v3h1v-3zM387 326v3h1v-3zM387 332v3h1v-3zM387 338v3h1v-3zM387 344v3h1v-3zM387 350v3h1v-3zM387 356v3h1v-3zM387 362v3h1v-3zM387 368v3h1v-3zM387 374v3h1v-3z"/>
<path d="M419 3v2h1v-2zM419 8v3h1v-3zM419 14v3h1v-3zM419 20v3h1v-3zM419 26v3h1v-3zM419 32v3h1v-3zM419 38v3h1v-3zM419 44v3h1v-3zM419 50v3h1v-3zM419 56v3h1v-3zM419 62v3h1v-3zM419 68v3h1v-3zM419 74v3h1v-3zM419 80v3h1v-3zM419 86v3h1v-3zM419 92v3h1v-3zM419 98v3h1v-3zM419 104v3h1v-3zM419 110v3h1v-3zM419 116v3h1v-3zM419 122v3h1v-3zM419 128v3h1v-3zM419 134v3h1v-3zM419 140v3h1v-3zM419 146v3h1v-3zM419 152v3h1v-3zM419 158v3h1v-3zM419 164v3h1v-3zM419 170v3h1v-3zM419 176v3h1v-3zM419 182v3h1v-3zM419 188v3h1v-3zM419 194v3h1v-3zM419 200v3h1v-3zM419 206v3h1v-3zM419 212v3h1v-3zM419 218v3h1v-3zM419 224v3h1v-3zM419 230v3h1v-3zM419 236v3h1v-3zM419 242v3h1v-3zM419 248v3h1v-3zM419 254v3h1v-3zM419 260v3h1v-3zM419 266v3h1v-3zM419 272v3h1v-3zM419 278v3h1v-3zM419 284v3h1v-3zM419 290v3h1v-3zM419 296v3h1v-3zM419 302v3h1v-3zM419 308v3h1v-3zM419 314v3h1v-3zM419 320v3h1v-3zM419 326v3h1v-3zM419 332v3h1v-3zM419 338v3h1v-3zM419 344v3h1v-3zM419 350v3h1v-3zM419 356v3h1v-3zM419 362v3h1v-3zM419 368v3h1v-3zM419 374v3h1v-3z"/>
<path d="M451 3v2h1v-2zM451 8v3h1v-3zM451 14v3h1v-3zM451 20v3h1v-3zM451 26v3h1v-3zM451 32v3h1v-3zM451 38v3h1v-3zM451 44v3h1v-3zM451 50v3h1v-3zM451 56v3h1v-3zM451 62v3h1v-3zM451 68v3h1v-3zM451 74v3h1v-3zM451 80v3h1v-3zM451 86v3h1v-3zM451 92v3h1v-3zM451 98v3h1v-3zM451 104v3h1v-3zM451 110v3h1v-3zM451 116v3h1v-3zM451 122v3h1v-3zM451 128v3h1v-3zM451 134v3h1v-3zM451 140v3h1v-3zM451 146v3h1v-3zM451 152v3h1v-3zM451 158v3h1v-3zM451 164v3h1v-3zM451 170v3h1v-3zM451 176v3h1v-3zM451 182v3h1v-3zM451 188v3h1v-3zM451 194v3h1v-3zM451 200v3h1v-3zM451 206v3h1v-3zM451 212v3h1v-3zM451 218v3h1v-3zM451 224v3h1v-3zM451 230v3h1v-3zM451 236v3h1v-3zM451 242v3h1v-3zM451 248v3h1v-3zM451 254v3h1v-3zM451 260v3h1v-3zM451 266v3h1v-3zM451 272v3h1v-3zM451 278v3h1v-3zM451 284v3h1v-3zM451 290v3h1v-3zM451 296v3h1v-3zM451 302v3h1v-3zM451 308v3h1v-3zM451 314v3h1v-3zM451 320v3h1v-3zM451 326v3h1v-3zM451 332v3h1v-3zM451 338v3h1v-3zM451 344v3h1v-3zM451 350v3h1v-3zM451 356v3h1v-3zM451 362v3h1v-3zM451 368v3h1v-3zM451 374v3h1v-3z"/>
<path d="M483 3v2h1v-2zM483 8v3h1v-3zM483 14v3h1v-3zM483 20v3h1v-3zM483 26v3h1v-3zM483 32v3h1v-3zM483 38v3h1v-3zM483 44v3h1v-3zM483 50v3h1v-3zM483 56v3h1v-3zM483 62v3h1v-3zM483 68v3h1v-3zM483 74v3h1v-3zM483 80v3h1v-3zM483 86v3h1v-3zM483 92v3h1v-3zM483 98v3h1v-3zM483 104v3h1v-3zM483 110v3h1v-3zM483 116v3h1v-3zM483 122v3h1v-3zM483 128v3h1v-3zM483 134v3h1v-3zM483 140v3h1v-3zM483 146v3h1v-3zM483 152v3h1v-3zM483 158v3h1v-3zM483 164v3h1v-3zM483 170v3h1v-3zM483 176v3h1v-3zM483 182v3h1v-3zM483 188v3h1v-3zM483 194v3h1v-3zM483 200v3h1v-3zM483 206v3h1v-3zM483 212v3h1v-3zM483 218v3h1v-3zM483 224v3h1v-3zM483 230v3h1v-3zM483 236v3h1v-3zM483 242v3h1v-3zM483 248v3h1v-3zM483 254v3h1v-3zM483 260v3h1v-3zM483 266v3h1v-3zM483 272v3h1v-3zM483 278v3h1v-3zM483 284v3h1v-3zM483 290v3h1v-3zM483 296v3h1v-3zM483 302v3h1v-3zM483 308v3h1v-3zM483 314v3h1v-3zM483 320v3h1v-3zM483 326v3h1v-3zM483 332v3h1v-3zM483 338v3h1v-3zM483 344v3h1v-3zM483 350v3h1v-3zM483 356v3h1v-3zM483 362v3h1v-3zM483 368v3h1v-3zM483 374v3h1v-3z"/>
<path d="M515 3v2h1v-2zM515 8v3h1v-3zM515 14v3h1v-3zM515 20v3h1v-3zM515 26v3h1v-3zM515 32v3h1v-3zM515 38v3h1v-3zM515 44v3h1v-3zM515 50v3h1v-3zM515 56v3h1v-3zM515 62v3h1v-3zM515 68v3h1v-3zM515 74v3h1v-3zM515 80v3h1v-3zM515 86v3h1v-3zM515 92v3h1v-3zM515 98v3h1v-3zM515 104v3h1v-3zM515 110v3h1v-3zM515 116v3h1v-3zM515 122v3h1v-3zM515 128v3h1v-3zM515 134v3h1v-3zM515 140v3h1v-3zM515 146v3h1v-3zM515 152v3h1v-3zM515 158v3h1v-3zM515 164v3h1v-3zM515 170v3h1v-3zM515 176v3h1v-3zM515 182v3h1v-3zM515 188v3h1v-3zM515 194v3h1v-3zM515 200v3h1v-3zM515 206v3h1v-3zM515 212v3h1v-3zM515 218v3h1v-3zM515 224v3h1v-3zM515 230v3h1v-3zM515 236v3h1v-3zM515 242v3h1v-3zM515 248v3h1v-3zM515 254v3h1v-3zM515 260v3h1v-3zM515 266v3h1v-3zM515 272v3h1v-3zM515 278v3h1v-3zM515 284v3h1v-3zM515 290v3h1v-3zM515 296v3h1v-3zM515 302v3h1v-3zM515 308v3h1v-3zM515 314v3h1v-3zM515 320v3h1v-3zM515 326v3h1v-3zM515 332v3h1v-3zM515 338v3h1v-3zM515 344v3h1v-3zM515 350v3h1v-3zM515 356v3h1v-3zM515 362v3h1v-3zM515 368v3h1v-3zM515 374v3h1v-3z"/>
<path d="M547 3v2h1v-2zM547 8v3h1v-3zM547 14v3h1v-3zM547 20v3h1v-3zM547 26v3h1v-3zM547 32v3h1v-3zM547 38v3h1v-3zM547 44v3h1v-3zM547 50v3h1v-3zM547 56v3h1v-3zM547 62v3h1v-3zM547 68v3h1v-3zM547 74v3h1v-3zM547 80v3h1v-3zM547 86v3h1v-3zM547 92v3h1v-3zM547 98v3h1v-3zM547 104v3h1v-3zM547 110v3h1v-3zM547 116v3h1v-3zM547 122v3h1v-3zM547 128v3h1v-3zM547 134v3h1v-3zM547 140v3h1v-3zM547 146v3h1v-3zM547 152v3h1v-3zM547 158v3h1v-3zM547 164v3h1v-3zM547 170v3h1v-3zM547 176v3h1v-3zM547 182v3h1v-3zM547 188v3h1v-3zM547 194v3h1v-3zM547 200v3h1v-3zM547 206v3h1v-3zM547 212v3h1v-3zM547 218v3h1v-3zM547 224v3h1v-3zM547 230v3h1v-3zM547 236v3h1v-3zM547 242v3h1v-3zM547 248v3h1v-3zM547 254v3h1v-3zM547 260v3h1v-3zM547 266v3h1v-3zM547 272v3h1v-3zM547 278v3h1v-3zM547 284v3h1v-3zM547 290v3h1v-3zM547 296v3h1v-3zM547 302v3h1v-3zM547 308v3h1v-3zM547 314v3h1v-3zM547 320v3h1v-3zM547 326v3h1v-3zM547 332v3h1v-3zM547 338v3h1v-3zM547 344v3h1v-3zM547 350v3h1v-3zM547 356v3h1v-3zM547 362v3h1v-3zM547 368v3h1v-3zM547 374v3h1v-3z"/>
</g>
<g clip-path="url(#cp)">
<g shape-rendering="crispEdges">
<rect x="3" y="142" width="557" height="1" fill="#c0c0c0"/>
</g>
<g shape-rendering="crispEdges">
<rect x="3" y="75" width="1" height="33" fill="#000"/>
<rect x="1" y="75" width="5" height="20" fill="#000"/>
<rect x="2" y="76" width="3" height="18" fill="#fff"/>
<rect x="11" y="62" width="1" height="29" fill="#000"/>
<rect x="9" y="77" width="5" height="9" fill="#000"/>
<rect x="19" y="82" width="1" height="23" fill="#000"/>
<rect x="17" y="83" width="5" height="5" fill="#000"/>
<rect x="18" y="84" width="3" height="3" fill="#fff"/>
<rect x="27" y="76" width="1" height="19" fill="#000"/>
<rect x="25" y="79" width="5" height="3" fill="#000"/>
<rect x="26" y="80" width="3" height="1" fill="#fff"/>
<rect x="35" y="65" width="1" height="37" fill="#000"/>
<rect x="33" y="78" width="5" height="23" fill="#000"/>
<rect x="43" y="89" width="1" height="43" fill="#000"/>
<rect x="41" y="98" width="5" height="5" fill="#000"/>
<rect x="42" y="99" width="3" height="3" fill="#fff"/>
<rect x="51" y="83" width="1" height="43" fill="#000"/>
<rect x="49" y="94" width="5" height="6" fill="#000"/>
<rect x="50" y="95" width="3" height="4" fill="#fff"/>
<rect x="59" y="85" width="1" height="30" fill="#000"/>
<rect x="57" y="96" width="5" height="7" fill="#000"/>
<rect x="67" y="71" width="1" height="34" fill="#000"/>
<rect x="65" y="76" width="5" height="25" fill="#000"/>
<rect x="66" y="77" width="3" height="23" fill="#fff"/>
<rect x="75" y="53" width="1" height="31" fill="#000"/>
<rect x="73" y="56" width="5" height="20" fill="#000"/>
<rect x="74" y="57" width="3" height="18" fill="#fff"/>
<rect x="83" y="24" width="1" height="36" fill="#000"/>
<rect x="81" y="26" width="5" height="31" fill="#000"/>
<rect x="82" y="27" width="3" height="29" fill="#fff"/>
<rect x="91" y="22" width="1" height="41" fill="#000"/>
<rect x="89" y="28" width="5" height="28" fill="#000"/>
<rect x="99" y="48" width="1" height="54" fill="#000"/>
<rect x="97" y="55" width="5" height="43" fill="#000"/>
<rect x="107" y="88" width="1" height="32" fill="#000"/>
<rect x="105" y="106" width="5" height="3" fill="#000"/>
<rect x="115" y="104" width="1" height="24" fill="#000"/>
<rect x="113" y="109" width="5" height="19" fill="#000"/>
<rect x="123" y="104" width="1" height="40" fill="#000"/>
<rect x="121" y="127" width="5" height="12" fill="#000"/>
<rect x="131" y="132" width="1" height="51" fill="#000"/>
<rect x="129" y="138" width="5" height="43" fill="#000"/>
<rect x="139" y="102" width="1" height="67" fill="#000"/>
<rect x="137" y="103" width="5" height="63" fill="#000"/>
<rect x="138" y="104" width="3" height="61" fill="#fff"/>
<rect x="147" y="67" width="1" height="37" fill="#000"/>
<rect x="145" y="73" width="5" height="26" fill="#000"/>
<rect x="146" y="74" width="3" height="24" fill="#fff"/>
<rect x="155" y="57" width="1" height="44" fill="#000"/>
<rect x="153" y="62" width="5" height="13" fill="#000"/>
<rect x="154" y="63" width="3" height="11" fill="#fff"/>
<rect x="163" y="53" width="1" height="60" fill="#000"/>
<rect x="161" y="62" width="5" height="35" fill="#000"/>
<rect x="171" y="62" width="1" height="32" fill="#000"/>
<rect x="169" y="64" width="5" height="28" fill="#000"/>
<rect x="170" y="65" width="3" height="26" fill="#fff"/>
<rect x="179" y="56" width="1" height="104" fill="#000"/>
<rect x="177" y="60" width="5" height="75" fill="#000"/>
<rect x="187" y="125" width="1" height="60" fill="#000"/>
<rect x="185" y="130" width="5" height="33" fill="#000"/>
<rect x="195" y="119" width="1" height="46" fill="#000"/>
<rect x="193" y="121" width="5" height="43" fill="#000"/>
<rect x="194" y="122" width="3" height="41" fill="#fff"/>
<rect x="203" y="67" width="1" height="58" fill="#000"/>
<rect x="201" y="81" width="5" height="42" fill="#000"/>
<rect x="202" y="82" width="3" height="40" fill="#fff"/>
<rect x="211" y="79" width="1" height="41" fill="#000"/>
<rect x="209" y="81" width="5" height="32" fill="#000"/>
<rect x="219" y="89" width="1" height="38" fill="#000"/>
<rect x="217" y="90" width="5" height="24" fill="#000"/>
<rect x="218" y="91" width="3" height="22" fill="#fff"/>
<rect x="227" y="86" width="1" height="20" fill="#000"/>
<rect x="225" y="91" width="5" height="13" fill="#000"/>
<rect x="235" y="103" width="1" height="68" fill="#000"/>
<rect x="233" y="104" width="5" height="53" fill="#000"/>
<rect x="243" y="125" width="1" height="57" fill="#000"/>
<rect x="241" y="127" width="5" height="30" fill="#000"/>
<rect x="242" y="128" width="3" height="28" fill="#fff"/>
<rect x="251" y="117" width="1" height="94" fill="#000"/>
<rect x="249" y="128" width="5" height="75" fill="#000"/>
<rect x="259" y="181" width="1" height="33" fill="#000"/>
<rect x="257" y="201" width="5" height="2" fill="#000"/>
<rect x="267" y="186" width="1" height="38" fill="#000"/>
<rect x="265" y="204" width="5" height="17" fill="#000"/>
<rect x="275" y="153" width="1" height="68" fill="#000"/>
<rect x="273" y="162" width="5" height="57" fill="#000"/>
<rect x="274" y="163" width="3" height="55" fill="#fff"/>
<rect x="283" y="160" width="1" height="61" fill="#000"/>
<rect x="281" y="163" width="5" height="42" fill="#000"/>
<rect x="291" y="185" width="1" height="24" fill="#000"/>
<rect x="289" y="193" width="5" height="12" fill="#000"/>
<rect x="290" y="194" width="3" height="10" fill="#fff"/>
<rect x="299" y="150" width="1" height="36" fill="#000"/>
<rect x="297" y="160" width="5" height="14" fill="#000"/>
<rect x="298" y="161" width="3" height="12" fill="#fff"/>
<rect x="307" y="156" width="1" height="37" fill="#000"/>
<rect x="305" y="156" width="5" height="27" fill="#000"/>
<rect x="315" y="169" width="1" height="30" fill="#000"/>
<rect x="313" y="180" width="5" height="16" fill="#000"/>
<rect x="323" y="176" width="1" height="45" fill="#000"/>
<rect x="321" y="188" width="5" height="9" fill="#000"/>
<rect x="322" y="189" width="3" height="7" fill="#fff"/>
<rect x="331" y="177" width="1" height="44" fill="#000"/>
<rect x="329" y="189" width="5" height="32" fill="#000"/>
<rect x="339" y="208" width="1" height="35" fill="#000"/>
<rect x="337" y="218" width="5" height="11" fill="#000"/>
<rect x="347" y="225" width="1" height="39" fill="#000"/>
<rect x="345" y="230" width="5" height="32" fill="#000"/>
<rect x="355" y="252" width="1" height="29" fill="#000"/>
<rect x="353" y="261" width="5" height="13" fill="#000"/>
<rect x="363" y="258" width="1" height="42" fill="#000"/>
<rect x="361" y="272" width="5" height="23" fill="#000"/>
<rect x="371" y="284" width="1" height="34" fill="#000"/>
<rect x="369" y="292" width="5" height="24" fill="#000"/>
<rect x="379" y="300" width="1" height="31" fill="#000"/>
<rect x="377" y="305" width="5" height="11" fill="#000"/>
<rect x="378" y="306" width="3" height="9" fill="#fff"/>
<rect x="387" y="296" width="1" height="56" fill="#000"/>
<rect x="385" y="310" width="5" height="36" fill="#000"/>
<rect x="395" y="321" width="1" height="46" fill="#000"/>
<rect x="393" y="344" width="5" height="11" fill="#000"/>
<rect x="403" y="313" width="1" height="56" fill="#000"/>
<rect x="401" y="313" width="5" height="41" fill="#000"/>
<rect x="402" y="314" width="3" height="39" fill="#fff"/>
<rect x="411" y="288" width="1" height="47" fill="#000"/>
<rect x="409" y="295" width="5" height="20" fill="#000"/>
<rect x="410" y="296" width="3" height="18" fill="#fff"/>
<rect x="419" y="288" width="1" height="30" fill="#000"/>
<rect x="417" y="293" width="5" height="1" fill="#000"/>
<rect x="427" y="252" width="1" height="43" fill="#000"/>
<rect x="425" y="266" width="5" height="25" fill="#000"/>
<rect x="426" y="267" width="3" height="23" fill="#fff"/>
<rect x="435" y="248" width="1" height="30" fill="#000"/>
<rect x="433" y="267" width="5" height="3" fill="#000"/>
<rect x="443" y="252" width="1" height="56" fill="#000"/>
<rect x="441" y="270" width="5" height="35" fill="#000"/>
<rect x="451" y="239" width="1" height="77" fill="#000"/>
<rect x="449" y="250" width="5" height="54" fill="#000"/>
<rect x="450" y="251" width="3" height="52" fill="#fff"/>
<rect x="459" y="215" width="1" height="40" fill="#000"/>
<rect x="457" y="216" width="5" height="35" fill="#000"/>
<rect x="458" y="217" width="3" height="33" fill="#fff"/>
<rect x="467" y="181" width="1" height="44" fill="#000"/>
<rect x="465" y="188" width="5" height="28" fill="#000"/>
<rect x="466" y="189" width="3" height="26" fill="#fff"/>
<rect x="475" y="159" width="1" height="40" fill="#000"/>
<rect x="473" y="168" width="5" height="24" fill="#000"/>
<rect x="474" y="169" width="3" height="22" fill="#fff"/>
<rect x="483" y="153" width="1" height="31" fill="#000"/>
<rect x="481" y="153" width="5" height="17" fill="#000"/>
<rect x="482" y="154" width="3" height="15" fill="#fff"/>
<rect x="491" y="113" width="1" height="50" fill="#000"/>
<rect x="489" y="115" width="5" height="40" fill="#000"/>
<rect x="490" y="116" width="3" height="38" fill="#fff"/>
<rect x="499" y="86" width="1" height="23" fill="#000"/>
<rect x="497" y="96" width="5" height="3" fill="#000"/>
<rect x="498" y="97" width="3" height="1" fill="#fff"/>
<rect x="507" y="97" width="1" height="46" fill="#000"/>
<rect x="505" y="98" width="5" height="44" fill="#000"/>
<rect x="515" y="115" width="1" height="49" fill="#000"/>
<rect x="513" y="136" width="5" height="5" fill="#000"/>
<rect x="514" y="137" width="3" height="3" fill="#fff"/>
<rect x="523" y="132" width="1" height="36" fill="#000"/>
<rect x="521" y="136" width="5" height="22" fill="#000"/>
<rect x="531" y="139" width="1" height="29" fill="#000"/>
<rect x="529" y="141" width="5" height="17" fill="#000"/>
<rect x="530" y="142" width="3" height="15" fill="#fff"/>
<rect x="539" y="140" width="1" height="8" fill="#000"/>
<rect x="537" y="141" width="5" height="2" fill="#000"/>
</g>
<path d="M247 320h9v1h-9zM223 321h24v1h-24zM256 321h24v1h-24zM207 322h16v1h-16zM280 322h16v1h-16zM191 323h16v1h-16zM296 323h40v1h-40zM159 324h32v1h-32zM336 324h16v1h-16zM143 325h16v1h-16zM352 325h16v1h-16zM535 325h4v1h-4zM135 326h8v1h-8zM368 326h16v1h-16zM519 326h16v1h-16zM103 327h32v1h-32zM384 327h16v1h-16zM511 327h8v1h-8zM87 328h16v1h-16zM400 328h16v1h-16zM497 328h14v1h-14zM79 329h8v1h-8zM416 329h16v1h-16zM493 329h4v1h-4zM71 330h8v1h-8zM432 330h8v1h-8zM479 330h14v1h-14zM47 331h24v1h-24zM440 331h39v1h-39zM41 332h6v1h-6zM37 333h4v1h-4zM31 334h6v1h-6zM23 335h8v1h-8zM17 336h6v1h-6zM13 337h4v1h-4zM7 338h6v1h-6zM3 339h4v1h-4z" fill="#006400" shape-rendering="crispEdges"/>
<path d="M215 96h15v1h-15zM175 97h9v1h-9zM201 97h14v1h-14zM230 97h4v1h-4zM170 98h5v1h-5zM184 98h8v1h-8zM197 98h4v1h-4zM234 98h4v1h-4zM168 99h2v1h-2zM192 99h5v1h-5zM238 99h4v1h-4zM166 100h2v1h-2zM242 100h3v1h-3zM164 101h2v1h-2zM245 101h2v1h-2zM162 102h2v1h-2zM247 102h2v1h-2zM159 103h3v1h-3zM249 103h2v1h-2zM157 104h2v1h-2zM251 104h2v1h-2zM155 105h2v1h-2zM253 105h2v1h-2zM153 106h2v1h-2zM255 106h2v1h-2zM151 107h2v1h-2zM257 107h2v1h-2zM150 108h1v1h-1zM259 108h2v1h-2zM148 109h2v1h-2zM261 109h2v1h-2zM147 110h1v1h-1zM263 110h2v1h-2zM145 111h2v1h-2zM265 111h2v1h-2zM144 112h1v1h-1zM267 112h3v1h-3zM143 113h1v1h-1zM270 113h4v1h-4zM141 114h2v1h-2zM274 114h3v1h-3zM140 115h1v1h-1zM277 115h2v1h-2zM138 116h2v1h-2zM279 116h2v1h-2zM136 117h2v1h-2zM281 117h2v1h-2zM134 118h2v1h-2zM283 118h2v1h-2zM132 119h2v1h-2zM285 119h3v1h-3zM127 120h5v1h-5zM288 120h2v1h-2zM122 121h5v1h-5zM290 121h4v1h-4zM119 122h3v1h-3zM294 122h4v1h-4zM117 123h2v1h-2zM298 123h3v1h-3zM114 124h3v1h-3zM301 124h2v1h-2zM112 125h2v1h-2zM303 125h2v1h-2zM110 126h2v1h-2zM305 126h2v1h-2zM108 127h2v1h-2zM307 127h2v1h-2zM106 128h2v1h-2zM309 128h2v1h-2zM103 129h3v1h-3zM311 129h2v1h-2zM101 130h2v1h-2zM313 130h2v1h-2zM98 131h3v1h-3zM315 131h1v1h-1zM95 132h3v1h-3zM316 132h2v1h-2zM93 133h2v1h-2zM318 133h1v1h-1zM90 134h3v1h-3zM319 134h1v1h-1zM88 135h2v1h-2zM320 135h2v1h-2zM86 136h2v1h-2zM322 136h1v1h-1zM84 137h2v1h-2zM323 137h1v1h-1zM83 138h1v1h-1zM324 138h2v1h-2zM81 139h2v1h-2zM326 139h2v1h-2zM80 140h1v1h-1zM328 140h1v1h-1zM79 141h1v1h-1zM329 141h2v1h-2zM77 142h2v1h-2zM331 142h2v1h-2zM76 143h1v1h-1zM333 143h2v1h-2zM75 144h1v1h-1zM335 144h2v1h-2zM73 145h2v1h-2zM337 145h2v1h-2zM72 146h1v1h-1zM339 146h1v1h-1zM71 147h1v1h-1zM340 147h2v1h-2zM69 148h2v1h-2zM342 148h1v1h-1zM68 149h1v1h-1zM343 149h1v1h-1zM67 150h1v1h-1zM344 150h2v1h-2zM65 151h2v1h-2zM346 151h1v1h-1zM64 152h1v1h-1zM347 152h2v1h-2zM63 153h1v1h-1zM349 153h2v1h-2zM61 154h2v1h-2zM351 154h2v1h-2zM60 155h1v1h-1zM353 155h2v1h-2zM58 156h2v1h-2zM355 156h1v1h-1zM56 157h2v1h-2zM356 157h2v1h-2zM54 158h2v1h-2zM358 158h1v1h-1zM52 159h2v1h-2zM359 159h1v1h-1zM51 160h1v1h-1zM360 160h2v1h-2zM49 161h2v1h-2zM362 161h1v1h-1zM48 162h1v1h-1zM363 162h2v1h-2zM47 163h1v1h-1zM365 163h2v1h-2zM45 164h2v1h-2zM367 164h2v1h-2zM44 165h1v1h-1zM369 165h2v1h-2zM42 166h2v1h-2zM371 166h1v1h-1zM40 167h2v1h-2zM372 167h1v1h-1zM38 168h2v1h-2zM373 168h1v1h-1zM36 169h2v1h-2zM374 169h2v1h-2zM35 170h1v1h-1zM376 170h1v1h-1zM33 171h2v1h-2zM377 171h1v1h-1zM32 172h1v1h-1zM378 172h1v1h-1zM31 173h1v1h-1zM379 173h1v1h-1zM29 174h2v1h-2zM380 174h1v1h-1zM28 175h1v1h-1zM381 175h1v1h-1zM27 176h1v1h-1zM382 176h1v1h-1zM26 177h1v1h-1zM383 177h1v1h-1zM25 178h1v1h-1zM383 178h1v1h-1zM24 179h1v1h-1zM384 179h1v1h-1zM23 180h1v1h-1zM385 180h1v1h-1zM22 181h1v1h-1zM386 181h1v1h-1zM21 182h1v1h-1zM387 182h1v1h-1zM20 183h1v1h-1zM388 183h1v1h-1zM19 184h1v1h-1zM389 184h1v1h-1zM18 185h1v1h-1zM389 185h1v1h-1zM17 186h1v1h-1zM390 186h1v1h-1zM15 187h2v1h-2zM391 187h1v1h-1zM14 188h1v1h-1zM392 188h1v1h-1zM13 189h1v1h-1zM393 189h1v1h-1zM12 190h1v1h-1zM393 190h1v1h-1zM11 191h1v1h-1zM394 191h1v1h-1zM10 192h1v1h-1zM395 192h1v1h-1zM9 193h1v1h-1zM396 193h1v1h-1zM7 194h2v1h-2zM397 194h1v1h-1zM6 195h1v1h-1zM398 195h2v1h-2zM5 196h1v1h-1zM400 196h1v1h-1zM4 197h1v1h-1zM401 197h1v1h-1zM3 198h1v1h-1zM402 198h1v1h-1zM403 199h1v1h-1zM404 200h1v1h-1zM405 201h1v1h-1zM406 202h1v1h-1zM407 203h1v1h-1zM407 204h1v1h-1zM408 205h1v1h-1zM409 206h1v1h-1zM410 207h1v1h-1zM411 208h2v1h-2zM413 209h2v1h-2zM415 210h2v1h-2zM417 211h2v1h-2zM419 212h2v1h-2zM421 213h3v1h-3zM424 214h2v1h-2zM426 215h2v1h-2zM428 216h2v1h-2zM430 217h2v1h-2zM432 218h1v1h-1zM433 219h2v1h-2zM435 220h1v1h-1zM436 221h1v1h-1zM437 222h1v1h-1zM438 223h1v1h-1zM439 224h1v1h-1zM440 225h1v1h-1zM441 226h1v1h-1zM442 227h1v1h-1zM529 227h10v1h-10zM443 228h2v1h-2zM525 228h4v1h-4zM445 229h2v1h-2zM521 229h4v1h-4zM447 230h2v1h-2zM517 230h4v1h-4zM449 231h2v1h-2zM511 231h6v1h-6zM451 232h1v1h-1zM505 232h6v1h-6zM452 233h2v1h-2zM501 233h4v1h-4zM454 234h2v1h-2zM498 234h3v1h-3zM456 235h1v1h-1zM496 235h2v1h-2zM457 236h2v1h-2zM494 236h2v1h-2zM459 237h3v1h-3zM492 237h2v1h-2zM462 238h4v1h-4zM490 238h2v1h-2zM466 239h6v1h-6zM487 239h3v1h-3zM472 240h8v1h-8zM485 240h2v1h-2zM480 241h5v1h-5z" fill="#0000cd" shape-rendering="crispEdges"/>
<path d="M97 80h7v1h-7zM93 81h4v1h-4zM104 81h5v1h-5zM90 82h3v1h-3zM109 82h2v1h-2zM88 83h2v1h-2zM111 83h2v1h-2zM86 84h2v1h-2zM113 84h2v1h-2zM84 85h2v1h-2zM115 85h2v1h-2zM83 86h1v1h-1zM117 86h3v1h-3zM82 87h1v1h-1zM120 87h2v1h-2zM81 88h1v1h-1zM122 88h2v1h-2zM79 89h2v1h-2zM124 89h2v1h-2zM78 90h1v1h-1zM126 90h1v1h-1zM170 90h3v1h-3zM77 91h1v1h-1zM127 91h1v1h-1zM167 91h3v1h-3zM173 91h2v1h-2zM76 92h1v1h-1zM128 92h2v1h-2zM165 92h2v1h-2zM175 92h2v1h-2zM74 93h2v1h-2zM130 93h1v1h-1zM153 93h12v1h-12zM177 93h2v1h-2zM72 94h2v1h-2zM131 94h2v1h-2zM149 94h4v1h-4zM179 94h1v1h-1zM70 95h2v1h-2zM133 95h3v1h-3zM145 95h4v1h-4zM180 95h1v1h-1zM68 96h2v1h-2zM136 96h2v1h-2zM141 96h4v1h-4zM181 96h1v1h-1zM65 97h3v1h-3zM138 97h3v1h-3zM182 97h1v1h-1zM61 98h4v1h-4zM183 98h1v1h-1zM55 99h6v1h-6zM184 99h1v1h-1zM51 100h4v1h-4zM185 100h1v1h-1zM50 101h1v1h-1zM186 101h1v1h-1zM49 102h1v1h-1zM187 102h1v1h-1zM48 103h1v1h-1zM188 103h1v1h-1zM47 104h1v1h-1zM189 104h1v1h-1zM46 105h1v1h-1zM190 105h2v1h-2zM45 106h1v1h-1zM192 106h1v1h-1zM242 106h2v1h-2zM44 107h1v1h-1zM193 107h1v1h-1zM240 107h2v1h-2zM244 107h1v1h-1zM43 108h1v1h-1zM194 108h1v1h-1zM238 108h2v1h-2zM245 108h1v1h-1zM41 109h2v1h-2zM195 109h5v1h-5zM223 109h9v1h-9zM236 109h2v1h-2zM246 109h2v1h-2zM39 110h2v1h-2zM200 110h6v1h-6zM217 110h6v1h-6zM232 110h4v1h-4zM248 110h1v1h-1zM38 111h1v1h-1zM206 111h4v1h-4zM213 111h4v1h-4zM249 111h1v1h-1zM36 112h2v1h-2zM210 112h3v1h-3zM250 112h1v1h-1zM34 113h2v1h-2zM251 113h1v1h-1zM32 114h2v1h-2zM252 114h1v1h-1zM30 115h2v1h-2zM253 115h1v1h-1zM28 116h2v1h-2zM253 116h1v1h-1zM27 117h1v1h-1zM254 117h1v1h-1zM26 118h1v1h-1zM255 118h1v1h-1zM25 119h1v1h-1zM256 119h1v1h-1zM25 120h1v1h-1zM257 120h1v1h-1zM24 121h1v1h-1zM257 121h1v1h-1zM23 122h1v1h-1zM258 122h1v1h-1zM22 123h1v1h-1zM259 123h1v1h-1zM21 124h1v1h-1zM260 124h1v1h-1zM21 125h1v1h-1zM260 125h1v1h-1zM20 126h1v1h-1zM261 126h1v1h-1zM19 127h1v1h-1zM262 127h1v1h-1zM18 128h1v1h-1zM263 128h1v1h-1zM18 129h1v1h-1zM263 129h1v1h-1zM17 130h1v1h-1zM264 130h1v1h-1zM16 131h1v1h-1zM265 131h1v1h-1zM16 132h1v1h-1zM266 132h1v1h-1zM15 133h1v1h-1zM266 133h1v1h-1zM14 134h1v1h-1zM267 134h2v1h-2zM14 135h1v1h-1zM269 135h2v1h-2zM13 136h1v1h-1zM271 136h2v1h-2zM12 137h1v1h-1zM273 137h2v1h-2zM12 138h1v1h-1zM275 138h1v1h-1zM11 139h1v1h-1zM276 139h1v1h-1zM10 140h1v1h-1zM277 140h1v1h-1zM9 141h1v1h-1zM277 141h1v1h-1zM9 142h1v1h-1zM278 142h1v1h-1zM8 143h1v1h-1zM279 143h1v1h-1zM7 144h1v1h-1zM280 144h1v1h-1zM6 145h1v1h-1zM281 145h1v1h-1zM5 146h1v1h-1zM281 146h1v1h-1zM5 147h1v1h-1zM282 147h1v1h-1zM4 148h1v1h-1zM283 148h2v1h-2zM3 149h1v1h-1zM285 149h2v1h-2zM287 150h2v1h-2zM289 151h2v1h-2zM291 152h9v1h-9zM300 153h2v1h-2zM302 154h2v1h-2zM304 155h1v1h-1zM305 156h2v1h-2zM307 157h1v1h-1zM308 158h1v1h-1zM309 159h1v1h-1zM310 160h1v1h-1zM311 161h1v1h-1zM312 162h1v1h-1zM313 163h1v1h-1zM314 164h1v1h-1zM315 165h1v1h-1zM316 166h2v1h-2zM318 167h2v1h-2zM320 168h1v1h-1zM321 169h2v1h-2zM323 170h1v1h-1zM324 171h1v1h-1zM325 172h1v1h-1zM326 173h1v1h-1zM327 174h1v1h-1zM327 175h1v1h-1zM328 176h1v1h-1zM329 177h1v1h-1zM330 178h1v1h-1zM538 178h1v1h-1zM331 179h1v1h-1zM537 179h1v1h-1zM332 180h1v1h-1zM536 180h1v1h-1zM333 181h1v1h-1zM535 181h1v1h-1zM334 182h1v1h-1zM535 182h1v1h-1zM335 183h1v1h-1zM534 183h1v1h-1zM335 184h1v1h-1zM533 184h1v1h-1zM336 185h1v1h-1zM532 185h1v1h-1zM337 186h1v1h-1zM531 186h1v1h-1zM338 187h1v1h-1zM530 187h1v1h-1zM339 188h1v1h-1zM530 188h1v1h-1zM340 189h1v1h-1zM529 189h1v1h-1zM341 190h1v1h-1zM528 190h1v1h-1zM341 191h1v1h-1zM527 191h1v1h-1zM342 192h1v1h-1zM527 192h1v1h-1zM343 193h1v1h-1zM526 193h1v1h-1zM344 194h1v1h-1zM525 194h1v1h-1zM345 195h1v1h-1zM524 195h1v1h-1zM345 196h1v1h-1zM524 196h1v1h-1zM346 197h1v1h-1zM523 197h1v1h-1zM347 198h1v1h-1zM522 198h1v1h-1zM348 199h1v1h-1zM521 199h1v1h-1zM349 200h1v1h-1zM520 200h1v1h-1zM350 201h1v1h-1zM519 201h1v1h-1zM351 202h1v1h-1zM519 202h1v1h-1zM351 203h1v1h-1zM518 203h1v1h-1zM352 204h1v1h-1zM517 204h1v1h-1zM353 205h1v1h-1zM516 205h1v1h-1zM354 206h1v1h-1zM515 206h1v1h-1zM355 207h1v1h-1zM514 207h1v1h-1zM356 208h2v1h-2zM514 208h1v1h-1zM358 209h1v1h-1zM513 209h1v1h-1zM359 210h1v1h-1zM513 210h1v1h-1zM360 211h2v1h-2zM512 211h1v1h-1zM362 212h1v1h-1zM511 212h1v1h-1zM363 213h1v1h-1zM511 213h1v1h-1zM364 214h1v1h-1zM510 214h1v1h-1zM365 215h1v1h-1zM509 215h1v1h-1zM366 216h1v1h-1zM509 216h1v1h-1zM367 217h1v1h-1zM508 217h1v1h-1zM368 218h1v1h-1zM508 218h1v1h-1zM369 219h1v1h-1zM507 219h1v1h-1zM370 220h1v1h-1zM507 220h1v1h-1zM371 221h1v1h-1zM506 221h1v1h-1zM372 222h2v1h-2zM506 222h1v1h-1zM374 223h1v1h-1zM505 223h1v1h-1zM375 224h1v1h-1zM505 224h1v1h-1zM376 225h2v1h-2zM504 225h1v1h-1zM378 226h1v1h-1zM504 226h1v1h-1zM379 227h1v1h-1zM503 227h1v1h-1zM380 228h1v1h-1zM503 228h1v1h-1zM380 229h1v1h-1zM502 229h1v1h-1zM381 230h1v1h-1zM502 230h1v1h-1zM381 231h1v1h-1zM501 231h1v1h-1zM382 232h1v1h-1zM501 232h1v1h-1zM383 233h1v1h-1zM500 233h1v1h-1zM383 234h1v1h-1zM500 234h1v1h-1zM384 235h1v1h-1zM499 235h1v1h-1zM385 236h1v1h-1zM499 236h1v1h-1zM385 237h1v1h-1zM499 237h1v1h-1zM386 238h1v1h-1zM498 238h1v1h-1zM386 239h1v1h-1zM498 239h1v1h-1zM387 240h1v1h-1zM497 240h1v1h-1zM388 241h1v1h-1zM497 241h1v1h-1zM388 242h1v1h-1zM496 242h1v1h-1zM389 243h1v1h-1zM496 243h1v1h-1zM390 244h1v1h-1zM495 244h1v1h-1zM391 245h1v1h-1zM495 245h1v1h-1zM391 246h1v1h-1zM494 246h1v1h-1zM392 247h1v1h-1zM494 247h1v1h-1zM393 248h1v1h-1zM493 248h1v1h-1zM394 249h1v1h-1zM493 249h1v1h-1zM394 250h1v1h-1zM492 250h1v1h-1zM395 251h1v1h-1zM492 251h1v1h-1zM396 252h1v1h-1zM491 252h1v1h-1zM397 253h1v1h-1zM491 253h1v1h-1zM398 254h1v1h-1zM490 254h1v1h-1zM399 255h1v1h-1zM490 255h1v1h-1zM399 256h1v1h-1zM489 256h1v1h-1zM400 257h1v1h-1zM489 257h1v1h-1zM401 258h1v1h-1zM488 258h1v1h-1zM402 259h1v1h-1zM487 259h1v1h-1zM403 260h1v1h-1zM487 260h1v1h-1zM404 261h1v1h-1zM486 261h1v1h-1zM405 262h1v1h-1zM485 262h1v1h-1zM406 263h1v1h-1zM485 263h1v1h-1zM407 264h1v1h-1zM484 264h1v1h-1zM408 265h1v1h-1zM484 265h1v1h-1zM409 266h1v1h-1zM483 266h1v1h-1zM410 267h1v1h-1zM482 267h1v1h-1zM411 268h1v1h-1zM482 268h1v1h-1zM412 269h1v1h-1zM481 269h1v1h-1zM413 270h1v1h-1zM480 270h1v1h-1zM414 271h1v1h-1zM479 271h1v1h-1zM415 272h1v1h-1zM479 272h1v1h-1zM416 273h1v1h-1zM478 273h1v1h-1zM417 274h1v1h-1zM477 274h1v1h-1zM418 275h1v1h-1zM476 275h1v1h-1zM419 276h1v1h-1zM476 276h1v1h-1zM420 277h2v1h-2zM475 277h1v1h-1zM422 278h1v1h-1zM474 278h1v1h-1zM423 279h1v1h-1zM473 279h1v1h-1zM424 280h2v1h-2zM472 280h1v1h-1zM426 281h1v1h-1zM471 281h1v1h-1zM427 282h1v1h-1zM471 282h1v1h-1zM428 283h2v1h-2zM470 283h1v1h-1zM430 284h1v1h-1zM469 284h1v1h-1zM431 285h1v1h-1zM468 285h1v1h-1zM432 286h2v1h-2zM467 286h1v1h-1zM434 287h1v1h-1zM465 287h2v1h-2zM435 288h1v1h-1zM464 288h1v1h-1zM436 289h2v1h-2zM463 289h1v1h-1zM438 290h1v1h-1zM461 290h2v1h-2zM439 291h1v1h-1zM460 291h1v1h-1zM440 292h2v1h-2zM458 292h2v1h-2zM442 293h1v1h-1zM456 293h2v1h-2zM443 294h3v1h-3zM454 294h2v1h-2zM446 295h4v1h-4zM452 295h2v1h-2zM450 296h2v1h-2z" fill="#20b2aa" shape-rendering="crispEdges"/>
<path d="M293 4h1v1h-1zM291 5h2v1h-2zM290 6h1v1h-1zM289 7h1v1h-1zM288 8h1v1h-1zM287 9h1v1h-1zM285 10h2v1h-2zM284 11h1v1h-1zM283 12h1v1h-1zM282 13h1v1h-1zM280 14h2v1h-2zM279 15h1v1h-1zM278 16h1v1h-1zM277 17h1v1h-1zM276 18h1v1h-1zM274 19h2v1h-2zM273 20h1v1h-1zM272 21h1v1h-1zM271 22h1v1h-1zM270 23h1v1h-1zM268 24h2v1h-2zM267 25h1v1h-1zM266 26h1v1h-1zM265 27h1v1h-1zM263 28h2v1h-2zM262 29h1v1h-1zM261 30h1v1h-1zM260 31h1v1h-1zM259 32h1v1h-1zM257 33h2v1h-2zM256 34h1v1h-1zM255 35h1v1h-1zM254 36h1v1h-1zM252 37h2v1h-2zM251 38h1v1h-1zM250 39h1v1h-1zM249 40h1v1h-1zM248 41h1v1h-1zM246 42h2v1h-2zM245 43h1v1h-1zM244 44h1v1h-1zM243 45h1v1h-1zM242 46h1v1h-1zM240 47h2v1h-2zM239 48h1v1h-1zM238 49h1v1h-1zM237 50h1v1h-1zM235 51h2v1h-2zM234 52h1v1h-1zM233 53h1v1h-1zM232 54h1v1h-1zM231 55h1v1h-1zM229 56h2v1h-2zM228 57h1v1h-1zM227 58h1v1h-1zM226 59h1v1h-1zM224 60h2v1h-2zM223 61h1v1h-1zM222 62h1v1h-1zM221 63h1v1h-1zM220 64h1v1h-1zM218 65h2v1h-2zM217 66h1v1h-1zM216 67h1v1h-1zM215 68h1v1h-1zM214 69h1v1h-1zM212 70h2v1h-2zM211 71h1v1h-1zM210 72h1v1h-1zM209 73h1v1h-1zM207 74h2v1h-2zM206 75h1v1h-1zM205 76h1v1h-1zM204 77h1v1h-1zM203 78h1v1h-1zM201 79h2v1h-2zM200 80h1v1h-1zM199 81h1v1h-1zM198 82h1v1h-1zM196 83h2v1h-2zM195 84h1v1h-1zM194 85h1v1h-1zM193 86h1v1h-1zM192 87h1v1h-1zM190 88h2v1h-2zM189 89h1v1h-1zM188 90h1v1h-1zM187 91h1v1h-1zM186 92h1v1h-1zM184 93h2v1h-2zM183 94h1v1h-1zM182 95h1v1h-1zM181 96h1v1h-1zM179 97h2v1h-2zM178 98h1v1h-1zM177 99h1v1h-1zM176 100h1v1h-1zM175 101h1v1h-1zM173 102h2v1h-2zM172 103h1v1h-1zM171 104h1v1h-1zM170 105h1v1h-1zM168 106h2v1h-2zM167 107h1v1h-1zM166 108h1v1h-1zM165 109h1v1h-1zM164 110h1v1h-1zM162 111h2v1h-2zM161 112h1v1h-1zM160 113h1v1h-1zM159 114h1v1h-1zM158 115h1v1h-1zM156 116h2v1h-2zM155 117h1v1h-1zM154 118h1v1h-1zM153 119h1v1h-1zM151 120h2v1h-2zM150 121h1v1h-1zM149 122h1v1h-1zM148 123h1v1h-1zM147 124h1v1h-1zM145 125h2v1h-2zM144 126h1v1h-1zM143 127h1v1h-1zM142 128h1v1h-1zM140 129h2v1h-2zM139 130h1v1h-1zM138 131h1v1h-1zM137 132h1v1h-1zM136 133h1v1h-1zM134 134h2v1h-2zM133 135h1v1h-1zM132 136h1v1h-1zM131 137h1v1h-1zM130 138h1v1h-1zM128 139h2v1h-2zM127 140h1v1h-1zM126 141h1v1h-1zM125 142h1v1h-1zM123 143h2v1h-2zM122 144h1v1h-1zM121 145h1v1h-1zM120 146h1v1h-1zM119 147h1v1h-1zM117 148h2v1h-2zM116 149h1v1h-1zM115 150h1v1h-1zM114 151h1v1h-1zM112 152h2v1h-2zM111 153h1v1h-1zM110 154h1v1h-1zM109 155h1v1h-1zM108 156h1v1h-1zM106 157h2v1h-2zM105 158h1v1h-1zM104 159h1v1h-1zM103 160h1v1h-1zM102 161h1v1h-1zM100 162h2v1h-2zM99 163h1v1h-1zM98 164h1v1h-1zM97 165h1v1h-1zM95 166h2v1h-2zM94 167h1v1h-1zM93 168h1v1h-1zM92 169h1v1h-1zM91 170h1v1h-1zM89 171h2v1h-2zM88 172h1v1h-1zM87 173h1v1h-1zM86 174h1v1h-1zM84 175h2v1h-2zM83 176h1v1h-1zM82 177h1v1h-1zM81 178h1v1h-1zM80 179h1v1h-1zM78 180h2v1h-2zM77 181h1v1h-1zM76 182h1v1h-1zM75 183h1v1h-1zM74 184h1v1h-1zM72 185h2v1h-2zM71 186h1v1h-1zM70 187h1v1h-1zM69 188h1v1h-1zM67 189h2v1h-2zM66 190h1v1h-1zM65 191h1v1h-1zM64 192h1v1h-1zM63 193h1v1h-1zM61 194h2v1h-2zM60 195h1v1h-1zM59 196h1v1h-1zM58 197h1v1h-1zM57 198h1v1h-1zM55 199h2v1h-2zM54 200h1v1h-1zM53 201h1v1h-1zM52 202h1v1h-1zM50 203h2v1h-2zM49 204h1v1h-1zM48 205h1v1h-1zM47 206h1v1h-1zM46 207h1v1h-1zM44 208h2v1h-2zM43 209h1v1h-1zM42 210h1v1h-1zM41 211h1v1h-1zM39 212h2v1h-2zM38 213h1v1h-1zM37 214h1v1h-1zM36 215h1v1h-1zM35 216h1v1h-1zM33 217h2v1h-2zM32 218h1v1h-1zM31 219h1v1h-1zM30 220h1v1h-1zM29 221h1v1h-1zM27 222h2v1h-2zM26 223h1v1h-1zM25 224h1v1h-1zM24 225h1v1h-1zM22 226h2v1h-2zM21 227h1v1h-1zM20 228h1v1h-1zM19 229h1v1h-1zM18 230h1v1h-1zM16 231h2v1h-2zM15 232h1v1h-1zM14 233h1v1h-1zM13 234h1v1h-1zM11 235h2v1h-2zM10 236h1v1h-1zM9 237h1v1h-1zM8 238h1v1h-1zM7 239h1v1h-1zM5 240h2v1h-2zM4 241h1v1h-1zM3 242h1v1h-1z" fill="#ff0000" shape-rendering="crispEdges"/>
<path d="M79 27h1v1h-1zM78 28h1v1h-1zM77 29h1v1h-1zM74 33h1v1h-1zM73 34h1v1h-1zM72 35h1v1h-1zM68 39h1v1h-1zM67 40h1v1h-1zM66 41h1v1h-1zM62 45h1v1h-1zM61 46h1v1h-1zM60 47h1v1h-1zM56 51h1v1h-1zM55 52h1v1h-1zM54 53h1v1h-1zM51 57h1v1h-1zM50 58h1v1h-1zM49 59h1v1h-1zM45 63h1v1h-1zM44 64h1v1h-1zM43 65h1v1h-1zM39 69h1v1h-1zM38 70h1v1h-1zM37 71h1v1h-1zM33 75h1v1h-1zM33 76h1v1h-1zM32 77h1v1h-1zM28 81h1v1h-1zM27 82h1v1h-1zM26 83h1v1h-1zM22 87h1v1h-1zM21 88h1v1h-1zM20 89h1v1h-1zM16 93h1v1h-1zM15 94h1v1h-1zM14 95h1v1h-1zM11 99h1v1h-1zM10 100h1v1h-1zM9 101h1v1h-1zM5 105h1v1h-1zM4 106h1v1h-1zM3 107h1v1h-1z" fill="#ff0000" shape-rendering="crispEdges"/>
<g shape-rendering="crispEdges">
<rect x="3" y="23" width="557" height="1" fill="#b8860b"/>
<rect x="3" y="191" width="557" height="1" fill="#b8860b"/>
<rect x="3" y="294" width="557" height="1" fill="#b8860b"/>
<rect x="3" y="378" width="557" height="1" fill="#b8860b"/>
<rect x="3" y="67" width="557" height="1" fill="#ff0000"/>
<rect x="3" y="131" width="557" height="1" fill="#ff0000"/>
<rect x="3" y="180" width="557" height="1" fill="#ff0000"/>
<rect x="3" y="220" width="557" height="1" fill="#ff0000"/>
<rect x="3" y="257" width="557" height="1" fill="#ff0000"/>
<rect x="3" y="295" width="557" height="1" fill="#ff0000"/>
<rect x="3" y="345" width="557" height="1" fill="#ff0000"/>
</g>
</g>
<text transform="translate(546.50,21) scale(0.4496,0.509)" font-size="20" fill="#b8860b" stroke="#b8860b" stroke-width="0.45" text-rendering="geometricPrecision">0.0</text>
<text transform="translate(541.50,189) scale(0.4496,0.509)" font-size="20" fill="#b8860b" stroke="#b8860b" stroke-width="0.45" text-rendering="geometricPrecision">23.6</text>
<text transform="translate(541.50,292) scale(0.4496,0.509)" font-size="20" fill="#b8860b" stroke="#b8860b" stroke-width="0.45" text-rendering="geometricPrecision">38.2</text>
<text transform="translate(541.50,376) scale(0.4496,0.509)" font-size="20" fill="#b8860b" stroke="#b8860b" stroke-width="0.45" text-rendering="geometricPrecision">50.0</text>
<g shape-rendering="crispEdges" fill="#000">
<rect x="2" y="2" width="559" height="1"/>
<rect x="2" y="2" width="1" height="378"/>
<rect x="560" y="2" width="1" height="378"/>
<rect x="2" y="379" width="559" height="1"/>
<rect x="561" y="9" width="2" height="1"/>
<rect x="561" y="42" width="2" height="1"/>
<rect x="561" y="76" width="2" height="1"/>
<rect x="561" y="109" width="2" height="1"/>
<rect x="561" y="142" width="2" height="1"/>
<rect x="561" y="176" width="2" height="1"/>
<rect x="561" y="209" width="2" height="1"/>
<rect x="561" y="242" width="2" height="1"/>
<rect x="561" y="276" width="2" height="1"/>
<rect x="561" y="309" width="2" height="1"/>
<rect x="561" y="342" width="2" height="1"/>
<rect x="561" y="376" width="2" height="1"/>
<rect x="3" y="380" width="1" height="3"/>
<rect x="67" y="380" width="1" height="3"/>
<rect x="131" y="380" width="1" height="3"/>
<rect x="195" y="380" width="1" height="3"/>
<rect x="259" y="380" width="1" height="3"/>
<rect x="323" y="380" width="1" height="3"/>
<rect x="387" y="380" width="1" height="3"/>
<rect x="451" y="380" width="1" height="3"/>
<rect x="515" y="380" width="1" height="3"/>
</g>
<text transform="translate(566.00,13) scale(0.4596,0.509)" font-size="20" fill="#000" stroke="#000" stroke-width="0.45" text-rendering="geometricPrecision">52.10</text>
<text transform="translate(566.00,46) scale(0.4596,0.509)" font-size="20" fill="#000" stroke="#000" stroke-width="0.45" text-rendering="geometricPrecision">50.90</text>
<text transform="translate(566.00,80) scale(0.4596,0.509)" font-size="20" fill="#000" stroke="#000" stroke-width="0.45" text-rendering="geometricPrecision">49.70</text>
<text transform="translate(566.00,113) scale(0.4596,0.509)" font-size="20" fill="#000" stroke="#000" stroke-width="0.45" text-rendering="geometricPrecision">48.50</text>
<text transform="translate(566.00,146) scale(0.4596,0.509)" font-size="20" fill="#000" stroke="#000" stroke-width="0.45" text-rendering="geometricPrecision">47.30</text>
<text transform="translate(566.00,180) scale(0.4596,0.509)" font-size="20" fill="#000" stroke="#000" stroke-width="0.45" text-rendering="geometricPrecision">46.10</text>
<text transform="translate(566.00,213) scale(0.4596,0.509)" font-size="20" fill="#000" stroke="#000" stroke-width="0.45" text-rendering="geometricPrecision">44.90</text>
<text transform="translate(566.00,246) scale(0.4596,0.509)" font-size="20" fill="#000" stroke="#000" stroke-width="0.45" text-rendering="geometricPrecision">43.70</text>
<text transform="translate(566.00,280) scale(0.4596,0.509)" font-size="20" fill="#000" stroke="#000" stroke-width="0.45" text-rendering="geometricPrecision">42.50</text>
<text transform="translate(566.00,313) scale(0.4596,0.509)" font-size="20" fill="#000" stroke="#000" stroke-width="0.45" text-rendering="geometricPrecision">41.30</text>
<text transform="translate(566.00,346) scale(0.4596,0.509)" font-size="20" fill="#000" stroke="#000" stroke-width="0.45" text-rendering="geometricPrecision">40.10</text>
<text transform="translate(566.00,380) scale(0.4596,0.509)" font-size="20" fill="#000" stroke="#000" stroke-width="0.45" text-rendering="geometricPrecision">38.90</text>
<g shape-rendering="crispEdges">
<rect x="562" y="61" width="31" height="11" fill="#ff0000"/>
<rect x="562" y="125" width="31" height="11" fill="#ff0000"/>
<rect x="562" y="174" width="31" height="11" fill="#ff0000"/>
<rect x="562" y="214" width="31" height="11" fill="#ff0000"/>
<rect x="562" y="251" width="31" height="11" fill="#ff0000"/>
<rect x="562" y="289" width="31" height="11" fill="#ff0000"/>
<rect x="562" y="339" width="31" height="11" fill="#ff0000"/>
<rect x="562" y="137" width="31" height="11" fill="#000"/>
</g>
<text transform="translate(566.00,70) scale(0.4596,0.509)" font-size="20" fill="#fff" stroke="#fff" stroke-width="0.45" text-rendering="geometricPrecision">50.00</text>
<text transform="translate(566.00,134) scale(0.4596,0.509)" font-size="20" fill="#fff" stroke="#fff" stroke-width="0.45" text-rendering="geometricPrecision">47.71</text>
<text transform="translate(566.00,183) scale(0.4596,0.509)" font-size="20" fill="#fff" stroke="#fff" stroke-width="0.45" text-rendering="geometricPrecision">45.96</text>
<text transform="translate(566.00,223) scale(0.4596,0.509)" font-size="20" fill="#fff" stroke="#fff" stroke-width="0.45" text-rendering="geometricPrecision">44.51</text>
<text transform="translate(566.00,260) scale(0.4596,0.509)" font-size="20" fill="#fff" stroke="#fff" stroke-width="0.45" text-rendering="geometricPrecision">43.18</text>
<text transform="translate(566.00,298) scale(0.4596,0.509)" font-size="20" fill="#fff" stroke="#fff" stroke-width="0.45" text-rendering="geometricPrecision">41.80</text>
<text transform="translate(566.00,348) scale(0.4596,0.509)" font-size="20" fill="#fff" stroke="#fff" stroke-width="0.45" text-rendering="geometricPrecision">40.00</text>
<text transform="translate(566.00,146) scale(0.4596,0.509)" font-size="20" fill="#fff" stroke="#fff" stroke-width="0.45" text-rendering="geometricPrecision">47.33</text>
<text transform="translate(2.50,392) scale(0.4670,0.509)" font-size="20" fill="#000" stroke="#000" stroke-width="0.45" text-rendering="geometricPrecision">25 May 2016</text>
<text transform="translate(66.50,392) scale(0.4446,0.509)" font-size="20" fill="#000" stroke="#000" stroke-width="0.45" text-rendering="geometricPrecision">6 Jun 2016</text>
<text transform="translate(130.50,392) scale(0.4497,0.509)" font-size="20" fill="#000" stroke="#000" stroke-width="0.45" text-rendering="geometricPrecision">16 Jun 2016</text>
<text transform="translate(194.50,392) scale(0.4497,0.509)" font-size="20" fill="#000" stroke="#000" stroke-width="0.45" text-rendering="geometricPrecision">28 Jun 2016</text>
<text transform="translate(258.50,392) scale(0.4389,0.509)" font-size="20" fill="#000" stroke="#000" stroke-width="0.45" text-rendering="geometricPrecision">8 Jul 2016</text>
<text transform="translate(322.50,392) scale(0.4400,0.509)" font-size="20" fill="#000" stroke="#000" stroke-width="0.45" text-rendering="geometricPrecision">20 Jul 2016</text>
<text transform="translate(386.50,392) scale(0.4594,0.509)" font-size="20" fill="#000" stroke="#000" stroke-width="0.45" text-rendering="geometricPrecision">1 Aug 2016</text>
<text transform="translate(450.50,392) scale(0.4585,0.509)" font-size="20" fill="#000" stroke="#000" stroke-width="0.45" text-rendering="geometricPrecision">11 Aug 2016</text>
<text transform="translate(514.50,392) scale(0.4629,0.509)" font-size="20" fill="#000" stroke="#000" stroke-width="0.45" text-rendering="geometricPrecision">23 Aug 2016</text>
<path d="M6 9h7v1h-7zM7 10h5v1h-5zM8 11h3v1h-3zM9 12h1v1h-1z" fill="#000" shape-rendering="crispEdges"/>
<text transform="translate(18.20,14) scale(0.4817,0.509)" font-size="20" fill="#000" stroke="#000" stroke-width="0.45" text-rendering="geometricPrecision">FOIL,Daily</text>
<text transform="translate(71.00,14) scale(0.4596,0.509)" font-size="20" fill="#000" stroke="#000" stroke-width="0.45" text-rendering="geometricPrecision">47.35</text>
<text transform="translate(97.00,14) scale(0.4596,0.509)" font-size="20" fill="#000" stroke="#000" stroke-width="0.45" text-rendering="geometricPrecision">47.38</text>
<text transform="translate(123.00,14) scale(0.4596,0.509)" font-size="20" fill="#000" stroke="#000" stroke-width="0.45" text-rendering="geometricPrecision">47.14</text>
<text transform="translate(149.00,14) scale(0.4596,0.509)" font-size="20" fill="#000" stroke="#000" stroke-width="0.45" text-rendering="geometricPrecision">47.33</text>
</svg></body></html>
